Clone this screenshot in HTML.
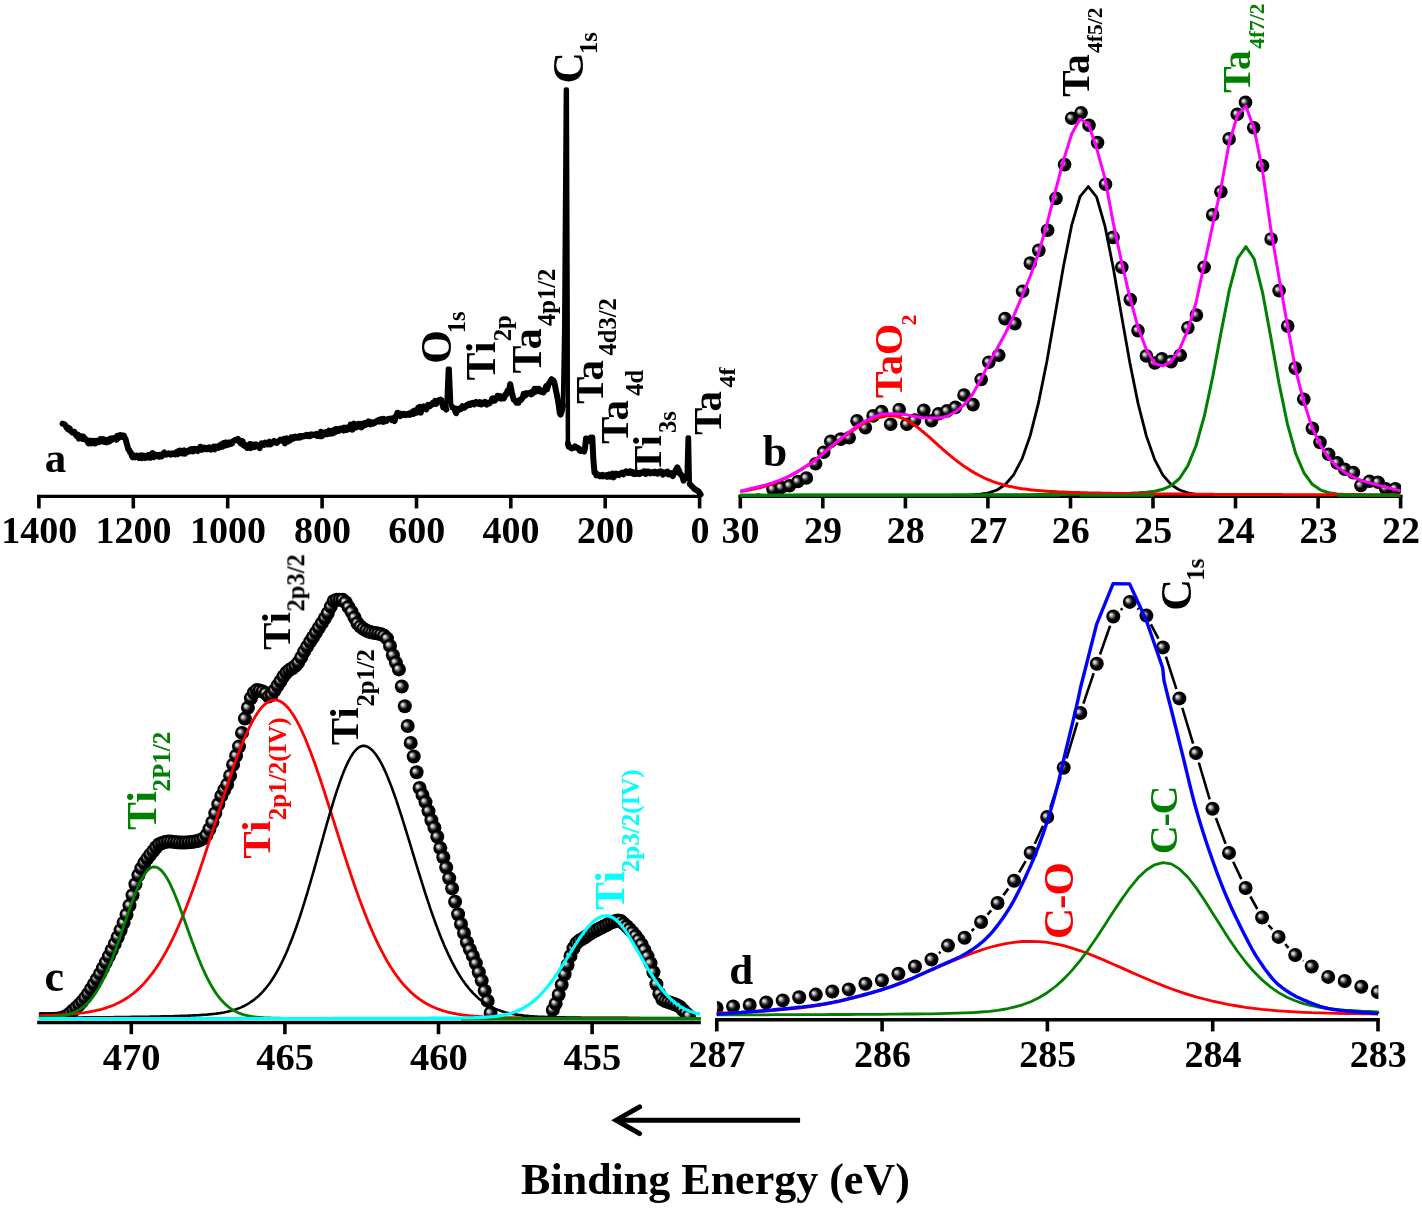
<!DOCTYPE html><html><head><meta charset="utf-8"><style>html,body{margin:0;padding:0;background:#fff;}svg{display:block;}</style></head><body>
<svg width="1422" height="1208" viewBox="0 0 1422 1208">
<defs><radialGradient id="sp" cx="0.5" cy="0.5" r="0.5" fx="0.31" fy="0.36"><stop offset="0" stop-color="#f0f0f0"/><stop offset="0.18" stop-color="#c4c4c4"/><stop offset="0.42" stop-color="#404040"/><stop offset="0.6" stop-color="#000"/></radialGradient></defs>
<rect width="1422" height="1208" fill="#fff"/>
<filter id="gs" filterUnits="userSpaceOnUse" x="0" y="0" width="1422" height="1208"><feOffset dx="0" dy="0"/></filter>
<g filter="url(#gs)">
<line x1="37.2" y1="496.4" x2="701.2" y2="496.4" stroke="#000" stroke-width="3.4"/>
<line x1="38.9" y1="494.9" x2="38.9" y2="508.4" stroke="#000" stroke-width="3.6"/>
<text x="39.2" y="543.2" font-family="&quot;Liberation Serif&quot;, serif" font-weight="bold" font-size="38" fill="#000" text-anchor="middle">1400</text>
<line x1="133.3" y1="494.9" x2="133.3" y2="508.4" stroke="#000" stroke-width="3.6"/>
<text x="133.6" y="543.2" font-family="&quot;Liberation Serif&quot;, serif" font-weight="bold" font-size="38" fill="#000" text-anchor="middle">1200</text>
<line x1="227.7" y1="494.9" x2="227.7" y2="508.4" stroke="#000" stroke-width="3.6"/>
<text x="228" y="543.2" font-family="&quot;Liberation Serif&quot;, serif" font-weight="bold" font-size="38" fill="#000" text-anchor="middle">1000</text>
<line x1="322.1" y1="494.9" x2="322.1" y2="508.4" stroke="#000" stroke-width="3.6"/>
<text x="322.4" y="543.2" font-family="&quot;Liberation Serif&quot;, serif" font-weight="bold" font-size="38" fill="#000" text-anchor="middle">800</text>
<line x1="416.5" y1="494.9" x2="416.5" y2="508.4" stroke="#000" stroke-width="3.6"/>
<text x="416.8" y="543.2" font-family="&quot;Liberation Serif&quot;, serif" font-weight="bold" font-size="38" fill="#000" text-anchor="middle">600</text>
<line x1="510.8" y1="494.9" x2="510.8" y2="508.4" stroke="#000" stroke-width="3.6"/>
<text x="511.1" y="543.2" font-family="&quot;Liberation Serif&quot;, serif" font-weight="bold" font-size="38" fill="#000" text-anchor="middle">400</text>
<line x1="605.2" y1="494.9" x2="605.2" y2="508.4" stroke="#000" stroke-width="3.6"/>
<text x="605.5" y="543.2" font-family="&quot;Liberation Serif&quot;, serif" font-weight="bold" font-size="38" fill="#000" text-anchor="middle">200</text>
<line x1="699.6" y1="494.9" x2="699.6" y2="508.4" stroke="#000" stroke-width="3.6"/>
<text x="699.9" y="543.2" font-family="&quot;Liberation Serif&quot;, serif" font-weight="bold" font-size="38" fill="#000" text-anchor="middle">0</text>
<polyline points="62.6,423.7 63.5,424.1 64.4,424.3 65.3,425 66.2,426.9 67.1,428.2 68,429.2 68.9,428 69.8,428.7 70.7,431.1 71.6,431.4 72.5,432.5 73.4,432 74.3,431.7 75.2,433.9 76.1,435.3 77,436.4 77.9,434.6 78.8,438.6 79.7,437.8 80.6,436.3 81.5,436.2 82.4,438.8 83.3,436.5 84.2,439.1 85.1,438.7 86,440.1 86.9,440.1 87.8,442.2 88.7,443.5 89.6,443 90.5,440.7 91.4,443.5 92.3,442 93.2,440.8 94.1,442.6 95,443.4 95.9,440.8 96.8,441 97.7,441.4 98.6,442.2 99.5,441.9 100.4,439 101.3,440.1 102.2,441.2 103.1,439 104,440.1 104.9,442 105.8,440.3 106.7,442.3 107.6,439.8 108.5,439.7 109.4,441.6 110.3,438.5 111.2,438.4 112.1,439.8 113,438.3 113.9,438.3 114.8,438.6 115.7,437.3 116.6,439.8 117.5,435.7 118.4,437.9 119.3,437.3 120.2,435.1 121.1,435.2 122,436.9 122.9,435.5 123.8,435.5 124.7,437.6 125.6,439.2 126.5,442.8 127.4,446 128.3,449.3 129.2,450 130.1,452.2 131,452.9 131.9,456 132.8,457.3 133.7,455.3 134.6,455.9 135.5,457.3 136.4,456.9 137.3,455.6 138.2,457.1 139.1,457.9 140,457.3 140.9,455.3 141.8,458.1 142.7,457.5 143.6,455.5 144.5,455.9 145.4,458 146.3,456.1 147.2,457.1 148.1,455 149,457.6 149.9,454.9 150.8,457.7 151.7,455.4 152.6,453 153.5,457.2 154.4,456.9 155.3,454.6 156.2,454.8 157.1,455.7 158,455.1 158.9,456.6 159.8,455 160.7,456.5 161.6,456.4 162.5,455 163.4,453.2 164.3,452.5 165.2,454.5 166.1,454.7 167,454.4 167.9,453.9 168.8,453.3 169.7,453.9 170.6,454.6 171.5,453.4 172.4,453.5 173.3,454 174.2,453.3 175.1,454.5 176,454.2 176.9,451.9 177.8,454.1 178.7,451.2 179.6,450.6 180.5,451.2 181.4,450.8 182.3,453.5 183.2,451.4 184.1,450.5 185,453.7 185.9,452.1 186.8,452.1 187.7,450.9 188.6,451.7 189.5,451.2 190.4,449.3 191.3,451.2 192.2,449.2 193.1,451.5 194,449.1 194.9,448.7 195.8,449.4 196.7,449.8 197.6,451 198.5,448.6 199.4,449.9 200.3,446.7 201.2,448 202.1,449.8 203,447.8 203.9,447.6 204.8,448.9 205.7,449.2 206.6,448.2 207.5,449 208.4,447.6 209.3,447.3 210.2,448.2 211.1,449.6 212,448.7 212.9,449 213.8,446.5 214.7,449.4 215.6,446.6 216.5,447.7 217.4,447.4 218.3,447.8 219.2,445.5 220.1,445 221,446.9 221.9,444 222.8,446.6 223.7,443 224.6,445.6 225.5,442.5 226.4,443.3 227.3,445 228.2,442.6 229.1,442.6 230,444.1 230.9,442.5 231.8,443.7 232.7,442.4 233.6,440.8 234.5,440.5 235.4,439.7 236.3,439.7 237.2,440.3 238.1,439 239,441.4 239.9,440.8 240.8,443.4 241.7,443 242.6,441.2 243.5,445.2 244.4,445.8 245.3,444.9 246.2,447 247.1,447.9 248,447.1 248.9,447.3 249.8,444 250.7,448.1 251.6,444.5 252.5,447 253.4,444.6 254.3,447.1 255.2,446.2 256.1,444.4 257,446.1 257.9,446.4 258.8,445.8 259.7,448.2 260.6,445.3 261.5,443.3 262.4,443.7 263.3,443.7 264.2,444.7 265.1,442.7 266,443.8 266.9,443 267.8,444.4 268.7,443.5 269.6,441.7 270.5,444.4 271.4,442.4 272.3,442.9 273.2,442.5 274.1,441 275,442.1 275.9,442.6 276.8,443 277.7,441.7 278.6,441 279.5,440.9 280.4,439.7 281.3,440.2 282.2,440.3 283.1,440.8 284,438.9 284.9,443.4 285.8,441.2 286.7,438.4 287.6,440.2 288.5,441.2 289.4,438.8 290.3,440.2 291.2,437.4 292.1,438.5 293,438.8 293.9,437 294.8,437.9 295.7,436.8 296.6,437.7 297.5,437.8 298.4,437.1 299.3,436.3 300.2,437.5 301.1,435.9 302,436 302.9,436.4 303.8,436.4 304.7,435.6 305.6,435.8 306.5,435 307.4,436 308.3,435.2 309.2,436 310.1,436.2 311,434.5 311.9,435.2 312.8,434.6 313.7,435 314.6,434.5 315.5,435.2 316.4,433.9 317.3,436 318.2,434 319.1,435.1 320,436.1 320.9,431.7 321.8,436.3 322.7,433.1 323.6,434.8 324.5,432.5 325.4,432.2 326.3,432.2 327.2,434.2 328.1,431.8 329,430.7 329.9,433.8 330.8,431.3 331.7,430.8 332.6,433.5 333.5,432.7 334.4,429.8 335.3,432.3 336.2,429.1 337.1,430.2 338,429.2 338.9,430.8 339.8,428.8 340.7,428.9 341.6,428.4 342.5,430 343.4,430.5 344.3,427.7 345.2,428.2 346.1,429.8 347,427.7 347.9,429.5 348.8,427.7 349.7,428.2 350.6,424.5 351.5,426 352.4,429.7 353.3,428.2 354.2,423.6 355.1,427.7 356,427.6 356.9,425.3 357.8,426.7 358.7,423.8 359.6,424.7 360.5,423.9 361.4,427.4 362.3,425 363.2,423.9 364.1,423.2 365,425.3 365.9,422.9 366.8,423.9 367.7,424.1 368.6,421.4 369.5,422.1 370.4,424.4 371.3,422.2 372.2,422.2 373.1,423.7 374,423.1 374.9,423 375.8,422.1 376.7,420.9 377.6,420.8 378.5,420 379.4,421.5 380.3,421 381.2,419.1 382.1,421.2 383,421.9 383.9,418.9 384.8,421.4 385.7,420.2 386.6,420.8 387.5,419.2 388.4,419 389.3,418.9 390.2,418.5 391.1,418.8 392,420.2 392.9,418.5 393.8,419 394.7,421.1 395.6,415.9 396.5,415.8 397.4,412.7 398.3,414.8 399.2,415 400.1,416.1 401,413.7 401.9,415.4 402.8,414.5 403.7,413.9 404.6,415.1 405.5,415.2 406.4,414.2 407.3,414.8 408.2,414.8 409.1,413.3 410,414.8 410.9,413.1 411.8,414 412.7,411.5 413.6,414 414.5,410.6 415.4,412.8 416.3,411 417.2,412.5 418.1,407.9 419,411.5 419.9,406.8 420.8,412.6 421.7,407.8 422.6,407.3 423.5,406.5 424.4,408.4 425.3,408.3 426.2,409.4 427.1,407 428,404.9 428.9,406.6 429.8,406.2 430.7,405.8 431.6,403.9 432.5,403.1 433.4,402.4 434.3,403.8 435.2,400.9 436.1,403.9 437,401.6 437.9,401.3 438.8,400.2 439.7,399.8 440.6,399.5 441.5,400 442.4,404.3 443.3,407.6 444.2,407.7 445.1,407.5 446.3,409.5" fill="none" stroke="#000" stroke-width="6.0" stroke-linejoin="round" stroke-linecap="round"/>
<polyline points="452.6,407.5 452.6,407.1 453.5,408.4 454.4,408.2 455.3,411.4 456.2,413.2 457.1,408.9 458,410.4 458.9,408.5 459.8,408.8 460.7,409.3 461.6,408.5 462.5,406.2 463.4,407.6 464.3,407.7 465.2,407.1 466.1,406 467,404.9 467.9,405.3 468.8,403.7 469.7,403.7 470.6,404.8 471.5,403.3 472.4,402.9 473.3,404 474.2,404.4 475.1,403.4 476,402 476.9,403.1 477.8,403.3 478.7,403.8 479.6,402.1 480.5,402.3 481.4,404.5 482.3,403.7 483.2,403.6 484.1,403.1 485,401.8 485.9,403.4 486.8,404.6 487.7,403 488.6,403.5 489.5,403.4 490.4,402.1 491.3,401.5 492.2,398.4 493.1,398.3 494,400.7 494.9,400.7 495.8,399.3 496.7,398.7 497.6,395.7 498.5,397.5 499.4,396.4 500.3,396.2 501.2,398.6 502.1,396.7 503,397.5 503.9,398.3 504.8,396.3 505.7,394 506.6,394.3 507.5,390.7 508.4,391 509.3,389.2 510.2,384.1 511.1,388.5 512,393.4 512.9,396.6 513.8,399.6 514.7,400.5 515.6,401.1 516.5,402.6 517.4,401.1 518.3,402.8 519.2,400.5 520.1,399.5 521,400 521.9,398.8 522.8,397.2 523.7,393.9 524.6,396 525.5,395.3 526.4,393.1 527.3,393.3 528.2,393.5 529.1,393.3 530,393.6 530.9,394.3 531.8,391.8 532.7,393.5 533.6,391.1 534.5,388.8 535.4,391.8 536.3,388.7 537.2,390.3 538.1,390 539,388.9 539.9,391.7 540.8,391.7 541.7,391.7 542.6,392.3 543.5,392.4 544.4,389.9 545.3,388.5 546.2,386.2 547.1,389.4 548,385.7 548.9,383.4 549.8,382.4 550.7,380.6 551.6,379.2 552.5,380 553.4,380.4 554.3,382.4 555.2,386.6 556.1,391.2 557,395.3 557.9,399.9 558.8,405.5 559.7,412.9 560.6,414.6 561.5,412 562.9,405.5" fill="none" stroke="#000" stroke-width="6.0" stroke-linejoin="round" stroke-linecap="round"/>
<polyline points="567.9,443.6 567.9,443.8 568.8,446.8 569.7,447 570.6,447.7 571.5,448.4 572.4,447.6 573.3,447.4 574.2,447.7 575.1,446.5 576,447.2 576.9,447.4 577.8,448.3 578.7,448.5 579.6,450.4 580.5,451 581.4,450 582.3,450.7 583.2,450.9 584.1,451.5 585,448 586,438.5 588.5,441 590.5,437.5 592.3,437.5 593.3,458.8 594.5,472.5 594.5,471.6 595.4,472.5 596.3,475.4 597.2,474.2 598.1,474.7 599,475.6 599.9,476.2 600.8,475.4 601.7,476.1 602.6,474.8 603.5,476.3 604.4,475.9 605.3,475.8 606.2,475.2 607.1,476.9 608,475 608.9,474.4 609.8,476.7 610.7,475.5 611.6,475.9 612.5,473.7 613.4,477.4 614.3,473.9 615.2,475.7 616.1,473.6 617,474.5 617.9,474.4 618.8,475 619.7,473.9 620.6,473.3 621.5,473.7 622.4,472.8 623.3,474.4 624.2,473.7 625.1,473 626,471.3 626.9,471.6 627.8,472.8 628.7,473 629.6,471.3 630.5,471.3 631.4,471.8 632.3,473.3 633.2,472.1 634.1,474 635,473.2 635.9,473.9 636.8,473.8 637.7,473.7 638.6,473.4 639.5,474 640.4,472.7 641.3,473.3 642.2,472.8 643.1,472.3 644,471.2 644.9,471.4 645.8,474 646.7,471.5 647.6,471.5 648.5,471.4 649.4,472.8 650.3,473.4 651.2,472.5 652.1,472 653,472.8 653.9,473.2 654.8,471.7 655.7,472.8 656.6,472.1 657.5,473.7 658.4,472.9 659.3,471.6 660.2,471.3 661.1,471.5 662,472.3 662.9,474.6 663.8,472.5 664.7,473.3 665.6,472.5 666.5,471.9 667.4,471.6 668.3,474.3 669.2,474.6 670.1,473.8 671,473.2 671.9,475.1 672.8,476.1 673.7,473.8 674.6,472.9 675.5,470.5 676.4,469.2 677.3,467.4 678.2,469.3 679.1,470.6 680,473.8 680.9,474.8 681.8,475.1 682.7,477.2 683.6,480.7 684.5,478.2 685.4,478.3 686.6,478" fill="none" stroke="#000" stroke-width="6.0" stroke-linejoin="round" stroke-linecap="round"/>
<polyline points="689.8,484 694,488.6 698.4,491.3 700.6,494.5" fill="none" stroke="#000" stroke-width="6.0" stroke-linejoin="round" stroke-linecap="round"/>
<polyline points="446.3,409.5 447.9,368.8 449.6,368.8 451.2,406 452.6,407.5" fill="none" stroke="#000" stroke-width="4.5" stroke-linejoin="round" stroke-linecap="round"/>
<polyline points="562.9,405.5 564.2,330 565.9,89.5 566.8,89.5 567.6,300 567.9,443.6" fill="none" stroke="#000" stroke-width="4.5" stroke-linejoin="round" stroke-linecap="round"/>
<polyline points="686.6,478 687.7,437.5 688.9,437.5 689.8,484" fill="none" stroke="#000" stroke-width="4.5" stroke-linejoin="round" stroke-linecap="round"/>
<text x="44.7" y="472.2" font-family="&quot;Liberation Serif&quot;, serif" font-weight="bold" font-size="43" fill="#000" text-anchor="start">a</text>
<text transform="translate(450.7,363.8) rotate(-90)" font-family="&quot;Liberation Serif&quot;, serif" font-weight="bold" font-size="43.3" fill="#000">O</text>
<text transform="translate(464.9,333.3) rotate(-90)" font-family="&quot;Liberation Serif&quot;, serif" font-weight="bold" font-size="24.5" fill="#000">1s</text>
<text transform="translate(495.4,380.4) rotate(-90)" font-family="&quot;Liberation Serif&quot;, serif" font-weight="bold" font-size="42" fill="#000">Ti</text>
<text transform="translate(510.6,341.3) rotate(-90)" font-family="&quot;Liberation Serif&quot;, serif" font-weight="bold" font-size="24.5" fill="#000">2p</text>
<text transform="translate(540.8,373.5) rotate(-90)" font-family="&quot;Liberation Serif&quot;, serif" font-weight="bold" font-size="42" fill="#000">Ta</text>
<text transform="translate(555.3,325.9) rotate(-90)" font-family="&quot;Liberation Serif&quot;, serif" font-weight="bold" font-size="24.5" fill="#000">4p1/2</text>
<text transform="translate(583,83.4) rotate(-90)" font-family="&quot;Liberation Serif&quot;, serif" font-weight="bold" font-size="43.5" fill="#000">C</text>
<text transform="translate(596.8,53.9) rotate(-90)" font-family="&quot;Liberation Serif&quot;, serif" font-weight="bold" font-size="24.5" fill="#000">1s</text>
<text transform="translate(602.5,404) rotate(-90)" font-family="&quot;Liberation Serif&quot;, serif" font-weight="bold" font-size="41" fill="#000">Ta</text>
<text transform="translate(616,355.4) rotate(-90)" font-family="&quot;Liberation Serif&quot;, serif" font-weight="bold" font-size="24.5" fill="#000">4d3/2</text>
<text transform="translate(628.2,444.1) rotate(-90)" font-family="&quot;Liberation Serif&quot;, serif" font-weight="bold" font-size="41" fill="#000">Ta</text>
<text transform="translate(642.9,395.7) rotate(-90)" font-family="&quot;Liberation Serif&quot;, serif" font-weight="bold" font-size="24.5" fill="#000">4d</text>
<text transform="translate(661.2,473.1) rotate(-90)" font-family="&quot;Liberation Serif&quot;, serif" font-weight="bold" font-size="41" fill="#000">Ti</text>
<text transform="translate(676.4,432.9) rotate(-90)" font-family="&quot;Liberation Serif&quot;, serif" font-weight="bold" font-size="24.5" fill="#000">3s</text>
<text transform="translate(720.8,435.1) rotate(-90)" font-family="&quot;Liberation Serif&quot;, serif" font-weight="bold" font-size="41" fill="#000">Ta</text>
<text transform="translate(735.2,387.6) rotate(-90)" font-family="&quot;Liberation Serif&quot;, serif" font-weight="bold" font-size="24" fill="#000">4f</text>
<line x1="738.6" y1="496.4" x2="1402.4" y2="496.4" stroke="#000" stroke-width="3.4"/>
<line x1="740.3" y1="494.9" x2="740.3" y2="508.4" stroke="#000" stroke-width="3.6"/>
<text x="740.6" y="543.2" font-family="&quot;Liberation Serif&quot;, serif" font-weight="bold" font-size="38" fill="#000" text-anchor="middle">30</text>
<line x1="822.8" y1="494.9" x2="822.8" y2="508.4" stroke="#000" stroke-width="3.6"/>
<text x="823.1" y="543.2" font-family="&quot;Liberation Serif&quot;, serif" font-weight="bold" font-size="38" fill="#000" text-anchor="middle">29</text>
<line x1="905.4" y1="494.9" x2="905.4" y2="508.4" stroke="#000" stroke-width="3.6"/>
<text x="905.7" y="543.2" font-family="&quot;Liberation Serif&quot;, serif" font-weight="bold" font-size="38" fill="#000" text-anchor="middle">28</text>
<line x1="987.9" y1="494.9" x2="987.9" y2="508.4" stroke="#000" stroke-width="3.6"/>
<text x="988.2" y="543.2" font-family="&quot;Liberation Serif&quot;, serif" font-weight="bold" font-size="38" fill="#000" text-anchor="middle">27</text>
<line x1="1070.5" y1="494.9" x2="1070.5" y2="508.4" stroke="#000" stroke-width="3.6"/>
<text x="1070.8" y="543.2" font-family="&quot;Liberation Serif&quot;, serif" font-weight="bold" font-size="38" fill="#000" text-anchor="middle">26</text>
<line x1="1153" y1="494.9" x2="1153" y2="508.4" stroke="#000" stroke-width="3.6"/>
<text x="1153.3" y="543.2" font-family="&quot;Liberation Serif&quot;, serif" font-weight="bold" font-size="38" fill="#000" text-anchor="middle">25</text>
<line x1="1235.5" y1="494.9" x2="1235.5" y2="508.4" stroke="#000" stroke-width="3.6"/>
<text x="1235.8" y="543.2" font-family="&quot;Liberation Serif&quot;, serif" font-weight="bold" font-size="38" fill="#000" text-anchor="middle">24</text>
<line x1="1318.1" y1="494.9" x2="1318.1" y2="508.4" stroke="#000" stroke-width="3.6"/>
<text x="1318.4" y="543.2" font-family="&quot;Liberation Serif&quot;, serif" font-weight="bold" font-size="38" fill="#000" text-anchor="middle">23</text>
<line x1="1400.6" y1="494.9" x2="1400.6" y2="508.4" stroke="#000" stroke-width="3.6"/>
<text x="1400.9" y="543.2" font-family="&quot;Liberation Serif&quot;, serif" font-weight="bold" font-size="38" fill="#000" text-anchor="middle">22</text>
<clipPath id="cb"><rect x="740" y="0" width="661" height="495.5"/></clipPath>
<g clip-path="url(#cb)">
<circle cx="758.2" cy="500" r="6.8" fill="url(#sp)"/>
<circle cx="773" cy="489.2" r="6.8" fill="url(#sp)"/>
<circle cx="781.1" cy="487.5" r="6.8" fill="url(#sp)"/>
<circle cx="789.5" cy="485.7" r="6.8" fill="url(#sp)"/>
<circle cx="797.9" cy="481.5" r="6.8" fill="url(#sp)"/>
<circle cx="806.4" cy="478" r="6.8" fill="url(#sp)"/>
<circle cx="815.6" cy="463.8" r="6.8" fill="url(#sp)"/>
<circle cx="823.7" cy="452.2" r="6.8" fill="url(#sp)"/>
<circle cx="830.8" cy="441.3" r="6.8" fill="url(#sp)"/>
<circle cx="840.8" cy="439.1" r="6.8" fill="url(#sp)"/>
<circle cx="849.2" cy="437.7" r="6.8" fill="url(#sp)"/>
<circle cx="857" cy="420.8" r="6.8" fill="url(#sp)"/>
<circle cx="865.4" cy="427.8" r="6.8" fill="url(#sp)"/>
<circle cx="873.1" cy="415.9" r="6.8" fill="url(#sp)"/>
<circle cx="881.6" cy="411.6" r="6.8" fill="url(#sp)"/>
<circle cx="890.7" cy="424.3" r="6.8" fill="url(#sp)"/>
<circle cx="899.2" cy="409.5" r="6.8" fill="url(#sp)"/>
<circle cx="906.9" cy="424.3" r="6.8" fill="url(#sp)"/>
<circle cx="914.6" cy="420.1" r="6.8" fill="url(#sp)"/>
<circle cx="923.8" cy="410.2" r="6.8" fill="url(#sp)"/>
<circle cx="931.5" cy="420.8" r="6.8" fill="url(#sp)"/>
<circle cx="938.5" cy="413.8" r="6.8" fill="url(#sp)"/>
<circle cx="947" cy="410.9" r="6.8" fill="url(#sp)"/>
<circle cx="955.4" cy="407.4" r="6.8" fill="url(#sp)"/>
<circle cx="964" cy="395" r="6.8" fill="url(#sp)"/>
<circle cx="973" cy="404.6" r="6.8" fill="url(#sp)"/>
<circle cx="981.2" cy="379.5" r="6.8" fill="url(#sp)"/>
<circle cx="988.8" cy="362.2" r="6.8" fill="url(#sp)"/>
<circle cx="998.7" cy="355.2" r="6.8" fill="url(#sp)"/>
<circle cx="1005" cy="318.6" r="6.8" fill="url(#sp)"/>
<circle cx="1014.9" cy="323.6" r="6.8" fill="url(#sp)"/>
<circle cx="1022.6" cy="291.2" r="6.8" fill="url(#sp)"/>
<circle cx="1030.3" cy="263.1" r="6.8" fill="url(#sp)"/>
<circle cx="1038.8" cy="250.4" r="6.8" fill="url(#sp)"/>
<circle cx="1047.6" cy="230.2" r="6.8" fill="url(#sp)"/>
<circle cx="1056" cy="198.4" r="6.8" fill="url(#sp)"/>
<circle cx="1064.6" cy="164.6" r="6.8" fill="url(#sp)"/>
<circle cx="1071.7" cy="118.2" r="6.8" fill="url(#sp)"/>
<circle cx="1081.1" cy="112.7" r="6.8" fill="url(#sp)"/>
<circle cx="1089" cy="125.3" r="6.8" fill="url(#sp)"/>
<circle cx="1097.6" cy="142.6" r="6.8" fill="url(#sp)"/>
<circle cx="1105.5" cy="184.3" r="6.8" fill="url(#sp)"/>
<circle cx="1113" cy="237.4" r="6.8" fill="url(#sp)"/>
<circle cx="1121.8" cy="267.3" r="6.8" fill="url(#sp)"/>
<circle cx="1130.3" cy="299.6" r="6.8" fill="url(#sp)"/>
<circle cx="1138" cy="330.6" r="6.8" fill="url(#sp)"/>
<circle cx="1146.4" cy="355.9" r="6.8" fill="url(#sp)"/>
<circle cx="1154.9" cy="363" r="6.8" fill="url(#sp)"/>
<circle cx="1161.9" cy="358.7" r="6.8" fill="url(#sp)"/>
<circle cx="1171.1" cy="361.6" r="6.8" fill="url(#sp)"/>
<circle cx="1180.2" cy="355.2" r="6.8" fill="url(#sp)"/>
<circle cx="1187.9" cy="327.8" r="6.8" fill="url(#sp)"/>
<circle cx="1196.4" cy="315.1" r="6.8" fill="url(#sp)"/>
<circle cx="1204.1" cy="267.3" r="6.8" fill="url(#sp)"/>
<circle cx="1212.7" cy="214.9" r="6.8" fill="url(#sp)"/>
<circle cx="1220.9" cy="191.8" r="6.8" fill="url(#sp)"/>
<circle cx="1229.1" cy="138.9" r="6.8" fill="url(#sp)"/>
<circle cx="1237.3" cy="114.3" r="6.8" fill="url(#sp)"/>
<circle cx="1245.5" cy="102.4" r="6.8" fill="url(#sp)"/>
<circle cx="1253.7" cy="127.7" r="6.8" fill="url(#sp)"/>
<circle cx="1262.6" cy="165.7" r="6.8" fill="url(#sp)"/>
<circle cx="1271.1" cy="239" r="6.8" fill="url(#sp)"/>
<circle cx="1279.1" cy="290.6" r="6.8" fill="url(#sp)"/>
<circle cx="1287.7" cy="326.1" r="6.8" fill="url(#sp)"/>
<circle cx="1295.2" cy="368.1" r="6.8" fill="url(#sp)"/>
<circle cx="1303.8" cy="399.3" r="6.8" fill="url(#sp)"/>
<circle cx="1312.4" cy="428.4" r="6.8" fill="url(#sp)"/>
<circle cx="1320" cy="442.4" r="6.8" fill="url(#sp)"/>
<circle cx="1328.6" cy="454.3" r="6.8" fill="url(#sp)"/>
<circle cx="1337.2" cy="462.9" r="6.8" fill="url(#sp)"/>
<circle cx="1344.7" cy="469.3" r="6.8" fill="url(#sp)"/>
<circle cx="1353.4" cy="472.6" r="6.8" fill="url(#sp)"/>
<circle cx="1360.9" cy="485.5" r="6.8" fill="url(#sp)"/>
<circle cx="1369.5" cy="481.2" r="6.8" fill="url(#sp)"/>
<circle cx="1378.1" cy="482.2" r="6.8" fill="url(#sp)"/>
<circle cx="1385.7" cy="488.7" r="6.8" fill="url(#sp)"/>
<circle cx="1395.3" cy="488.7" r="6.8" fill="url(#sp)"/>
</g>
<polyline points="739.8,495.3 748.1,495.3 756.4,495.3 764.7,495.3 773,495.3 781.3,495.3 789.6,495.3 797.9,495.3 806.2,495.3 814.5,495.3 822.8,495.3 831.1,495.3 839.4,495.3 847.7,495.3 856,495.3 864.3,495.3 872.6,495.3 880.8,495.3 889.1,495.3 897.4,495.3 905.7,495.3 914,495.3 922.3,495.3 930.6,495.3 938.9,495.3 947.2,495.3 955.5,495.2 963.8,495.1 972.1,494.9 980.4,494.2 988.7,492.8 997,490 1005.3,484.5 1013.6,474.9 1021.9,459.2 1030.2,435.6 1038.5,402.9 1046.8,361.7 1055.1,314.6 1063.4,266.8 1071.7,225.1 1080,196.6 1088.3,186.6 1096.6,197 1104.9,225.8 1113.2,267.6 1121.5,315.4 1129.8,362.5 1138.1,403.6 1146.4,436.1 1154.7,459.6 1162.9,475.1 1171.2,484.7 1179.5,490 1187.8,492.9 1196.1,494.3 1204.4,494.9 1212.7,495.1 1221,495.2 1229.3,495.3 1237.6,495.3 1245.9,495.3 1254.2,495.3 1262.5,495.3 1270.8,495.3 1279.1,495.3 1287.4,495.3 1295.7,495.3 1304,495.3 1312.3,495.3 1320.6,495.3 1328.9,495.3 1337.2,495.3 1345.5,495.3 1353.8,495.3 1362.1,495.3 1370.4,495.3 1378.7,495.3 1387,495.3 1395.3,495.3" fill="none" stroke="#000" stroke-width="2.8" stroke-linejoin="round"/>
<polyline points="739.8,495.2 748.1,495.2 756.4,495.2 764.7,495.2 773,495.2 781.3,495.2 789.6,495.2 797.9,495.1 806.2,495.1 814.5,495.1 822.8,495.1 831.1,495.1 839.4,495.1 847.7,495.1 856,495.1 864.3,495.1 872.6,495.1 880.8,495.1 889.1,495.1 897.4,495.1 905.7,495 914,495 922.3,495 930.6,495 938.9,495 947.2,495 955.5,494.9 963.8,494.9 972.1,494.9 980.4,494.9 988.7,494.8 997,494.8 1005.3,494.8 1013.6,494.7 1021.9,494.7 1030.2,494.7 1038.5,494.6 1046.8,494.5 1055.1,494.5 1063.4,494.4 1071.7,494.3 1080,494.2 1088.3,494.1 1096.6,494 1104.9,493.8 1113.2,493.7 1121.5,493.4 1129.8,493.2 1138.1,492.8 1146.4,492.2 1154.7,491.2 1162.9,489.3 1171.2,485.6 1179.5,478.5 1187.8,465.9 1196.1,445.5 1204.4,415.7 1212.7,376.9 1221,332.7 1229.3,290.1 1237.6,258.5 1245.9,246.7 1254.2,259 1262.5,292.3 1270.8,337.3 1279.1,383.8 1287.4,423.9 1295.7,453.6 1304,473 1312.3,484.3 1320.6,490.1 1328.9,492.8 1337.2,494 1345.5,494.5 1353.8,494.7 1362.1,494.8 1370.4,494.9 1378.7,494.9 1387,495 1395.3,495" fill="none" stroke="#008000" stroke-width="3" stroke-linejoin="round"/>
<polyline points="740.3,491.5 741.8,491.3 743.3,491 744.8,490.8 746.3,490.5 747.8,490.3 749.3,490 750.8,489.7 752.3,489.4 753.8,489.1 755.3,488.8 756.8,488.4 758.3,488 759.8,487.7 761.3,487.3 762.8,486.8 764.3,486.4 765.8,486 767.3,485.5 768.8,485 770.3,484.5 771.8,484 773.3,483.4 774.8,482.9 776.3,482.3 777.8,481.7 779.3,481 780.8,480.4 782.3,479.7 783.8,479 785.3,478.3 786.8,477.5 788.3,476.8 789.8,476 791.3,475.2 792.8,474.4 794.3,473.5 795.8,472.6 797.3,471.7 798.8,470.8 800.3,469.9 801.8,468.9 803.3,468 804.8,467 806.3,466 807.8,464.9 809.3,463.9 810.8,462.8 812.3,461.7 813.8,460.6 815.3,459.5 816.8,458.4 818.3,457.2 819.8,456.1 821.3,454.9 822.8,453.7 824.3,452.6 825.8,451.4 827.3,450.2 828.8,449 830.3,447.8 831.8,446.6 833.3,445.4 834.8,444.2 836.3,442.9 837.8,441.8 839.3,440.6 840.8,439.4 842.3,438.2 843.8,437 845.3,435.9 846.8,434.8 848.3,433.6 849.8,432.6 851.3,431.5 852.8,430.4 854.3,429.4 855.8,428.4 857.3,427.4 858.8,426.4 860.3,425.5 861.8,424.6 863.3,423.8 864.8,423 866.3,422.2 867.8,421.4 869.3,420.7 870.8,420.1 872.3,419.4 873.8,418.9 875.3,418.3 876.8,417.9 878.3,417.4 879.8,417 881.3,416.7 882.8,416.4 884.3,416.2 885.8,416 887.3,415.8 888.8,415.7 890.3,415.7 891.8,415.7 893.3,415.8 894.8,416 896.3,416.3 897.8,416.6 899.3,417.1 900.8,417.6 902.3,418.1 903.8,418.8 905.3,419.5 906.8,420.2 908.3,421.1 909.8,422 911.3,422.9 912.8,423.9 914.3,425 915.8,426 917.3,427.2 918.8,428.3 920.3,429.5 921.8,430.8 923.3,432 924.8,433.3 926.3,434.6 927.8,435.9 929.3,437.2 930.8,438.5 932.3,439.9 933.8,441.2 935.3,442.6 936.8,443.9 938.3,445.3 939.8,446.6 941.3,447.9 942.8,449.3 944.3,450.6 945.8,451.9 947.3,453.2 948.8,454.4 950.3,455.7 951.8,456.9 953.3,458.2 954.8,459.4 956.3,460.5 957.8,461.7 959.3,462.8 960.8,463.9 962.3,465 963.8,466.1 965.3,467.1 966.8,468.1 968.3,469.1 969.8,470.1 971.3,471 972.8,471.9 974.3,472.8 975.8,473.6 977.3,474.4 978.8,475.2 980.3,476 981.8,476.7 983.3,477.5 984.8,478.2 986.3,478.8 987.8,479.5 989.3,480.1 990.8,480.7 992.3,481.3 993.8,481.8 995.3,482.3 996.8,482.8 998.3,483.3 999.8,483.8 1001.3,484.2 1002.8,484.7 1004.3,485.1 1005.8,485.5 1007.3,485.8 1008.8,486.2 1010.3,486.5 1011.8,486.8 1013.3,487.1 1014.8,487.4 1016.3,487.7 1017.8,488 1019.3,488.2 1020.8,488.5 1022.3,488.7 1023.8,488.9 1025.3,489.1 1026.8,489.3 1028.3,489.5 1029.8,489.7 1031.3,489.9 1032.8,490 1034.3,490.2 1035.8,490.3 1037.3,490.5 1038.8,490.6 1040.3,490.7 1041.8,490.8 1043.3,491 1044.8,491.1 1046.3,491.2 1047.8,491.3 1049.3,491.4 1050.8,491.5 1052.3,491.5 1053.8,491.6 1055.3,491.7 1056.8,491.8 1058.3,491.9 1059.8,491.9 1061.3,492 1062.8,492.1 1064.3,492.1 1065.8,492.2 1067.3,492.2 1068.8,492.3 1070.3,492.4 1071.8,492.4 1073.3,492.5 1074.8,492.5 1076.3,492.5 1077.8,492.6 1079.3,492.6 1080.8,492.7 1082.3,492.7 1083.8,492.8 1085.3,492.8 1086.8,492.8 1088.3,492.9 1089.8,492.9 1091.3,492.9 1092.8,493 1094.3,493 1095.8,493 1097.3,493.1 1098.8,493.1 1100.3,493.1 1101.8,493.2 1103.3,493.2 1104.8,493.2 1106.3,493.2 1107.8,493.3 1109.3,493.3 1110.8,493.3 1112.3,493.4 1113.8,493.4 1115.3,493.4 1116.8,493.4 1118.3,493.4 1119.8,493.5 1121.3,493.5 1122.8,493.5 1124.3,493.5 1125.8,493.6 1127.3,493.6 1128.8,493.6 1130.3,493.6 1131.8,493.6 1133.3,493.7 1134.8,493.7 1136.3,493.7 1137.8,493.7 1139.3,493.7 1140.8,493.8 1142.3,493.8 1143.8,493.8 1145.3,493.8 1146.8,493.8 1148.3,493.8 1149.8,493.9 1151.3,493.9 1152.8,493.9 1154.3,493.9 1155.8,493.9 1157.3,493.9 1158.8,493.9 1160.3,494 1161.8,494 1163.3,494 1164.8,494 1166.3,494 1167.8,494 1169.3,494 1170.8,494.1 1172.3,494.1 1173.8,494.1 1175.3,494.1 1176.8,494.1 1178.3,494.1 1179.8,494.1 1181.3,494.1 1182.8,494.1 1184.3,494.2 1185.8,494.2 1187.3,494.2 1188.8,494.2 1190.3,494.2 1191.8,494.2 1193.3,494.2 1194.8,494.2 1196.3,494.2 1197.8,494.3 1199.3,494.3 1200.8,494.3 1202.3,494.3 1203.8,494.3 1205.3,494.3 1206.8,494.3 1208.3,494.3 1209.8,494.3 1211.3,494.3 1212.8,494.3 1214.3,494.4 1215.8,494.4 1217.3,494.4 1218.8,494.4 1220.3,494.4 1221.8,494.4 1223.3,494.4 1224.8,494.4 1226.3,494.4 1227.8,494.4 1229.3,494.4 1230.8,494.4 1232.3,494.4 1233.8,494.5 1235.3,494.5 1236.8,494.5 1238.3,494.5 1239.8,494.5 1241.3,494.5 1242.8,494.5 1244.3,494.5 1245.8,494.5 1247.3,494.5 1248.8,494.5 1250.3,494.5 1251.8,494.5 1253.3,494.5 1254.8,494.5 1256.3,494.6 1257.8,494.6 1259.3,494.6 1260.8,494.6 1262.3,494.6 1263.8,494.6 1265.3,494.6 1266.8,494.6 1268.3,494.6 1269.8,494.6 1271.3,494.6 1272.8,494.6 1274.3,494.6 1275.8,494.6 1277.3,494.6 1278.8,494.6 1280.3,494.6 1281.8,494.6 1283.3,494.7 1284.8,494.7 1286.3,494.7 1287.8,494.7 1289.3,494.7 1290.8,494.7 1292.3,494.7 1293.8,494.7 1295.3,494.7 1296.8,494.7 1298.3,494.7 1299.8,494.7 1301.3,494.7 1302.8,494.7 1304.3,494.7 1305.8,494.7 1307.3,494.7 1308.8,494.7 1310.3,494.7 1311.8,494.7 1313.3,494.7 1314.8,494.7 1316.3,494.7 1317.8,494.7 1319.3,494.8 1320.8,494.8 1322.3,494.8 1323.8,494.8 1325.3,494.8 1326.8,494.8 1328.3,494.8 1329.8,494.8 1331.3,494.8 1332.8,494.8 1334.3,494.8 1335.8,494.8 1337.3,494.8 1338.8,494.8 1340.3,494.8 1341.8,494.8 1343.3,494.8 1344.8,494.8 1346.3,494.8 1347.8,494.8 1349.3,494.8 1350.8,494.8 1352.3,494.8 1353.8,494.8 1355.3,494.8 1356.8,494.8 1358.3,494.8 1359.8,494.8 1361.3,494.8 1362.8,494.8 1364.3,494.9 1365.8,494.9 1367.3,494.9 1368.8,494.9 1370.3,494.9 1371.8,494.9 1373.3,494.9 1374.8,494.9 1376.3,494.9 1377.8,494.9 1379.3,494.9 1380.8,494.9 1382.3,494.9 1383.8,494.9 1385.3,494.9 1386.8,494.9 1388.3,494.9 1389.8,494.9 1391.3,494.9 1392.8,494.9 1394.3,494.9 1395.8,494.9 1397.3,494.9 1398.8,494.9 1400.3,494.9" fill="none" stroke="#ff0000" stroke-width="3" stroke-linejoin="round"/>
<line x1="740.3" y1="495.3" x2="1060" y2="495.3" stroke="#008000" stroke-width="3"/>
<line x1="1080" y1="495.3" x2="1154" y2="495.3" stroke="#008000" stroke-width="3"/>
<line x1="1337" y1="495.3" x2="1400.6" y2="495.3" stroke="#008000" stroke-width="3"/>
<polyline points="740.3,491.3 748.1,489.3 756.4,487.2 764.7,485.1 773,482.6 781.3,479.6 789.6,475.9 797.9,471.6 806.2,466.4 814.5,461.1 822.8,453.9 831.1,446.4 839.4,439.9 847.7,433.1 856,426.6 864.3,421.6 872.6,417.7 880.8,414.3 889.1,413.8 897.4,413.8 905.7,414.6 914,416.2 922.3,417.7 930.6,418 938.9,418 947.2,416.3 955.5,411.8 963.8,405.1 972.1,395.1 980.4,380.2 988.7,363.9 997,348.8 1005.3,333.5 1013.6,316.1 1021.9,296.7 1030.2,276.3 1038.5,253.4 1046.8,224.6 1055.1,192.1 1063.4,160.6 1071.7,134 1080,119 1088.3,123.7 1096.6,148.1 1104.9,178.1 1113.2,222.6 1121.5,261.6 1129.8,297.2 1138.1,327.5 1146.4,349.5 1154.7,363.7 1162.9,365.9 1171.2,361.7 1179.5,349.4 1187.8,330.2 1196.1,302.2 1204.4,263.6 1212.7,225.1 1221,187.8 1229.3,142.3 1237.6,115 1245.9,106.1 1254.2,129.2 1262.5,170.4 1270.8,229.1 1279.1,277.9 1287.4,325 1295.7,370.3 1304,402.2 1312.3,428.1 1320.6,445.6 1328.9,458.1 1337.2,467 1345.5,472.9 1353.8,477.3 1362.1,480.6 1370.4,483.1 1378.7,485.4 1387,487.5 1395.3,489.6 1400.7,490.9" fill="none" stroke="#ff00ff" stroke-width="3" stroke-linejoin="round"/>
<text x="762.8" y="465.5" font-family="&quot;Liberation Serif&quot;, serif" font-weight="bold" font-size="44" fill="#000" text-anchor="start">b</text>
<text transform="translate(902.3,398) rotate(-90)" font-family="&quot;Liberation Serif&quot;, serif" font-weight="bold" font-size="40" fill="#ff0000">TaO</text>
<text transform="translate(915.5,325.5) rotate(-90)" font-family="&quot;Liberation Serif&quot;, serif" font-weight="bold" font-size="22" fill="#ff0000">2</text>
<text transform="translate(1088.9,96.8) rotate(-90)" font-family="&quot;Liberation Serif&quot;, serif" font-weight="bold" font-size="39.5" fill="#000">Ta</text>
<text transform="translate(1102.2,52.9) rotate(-90)" font-family="&quot;Liberation Serif&quot;, serif" font-weight="bold" font-size="21.5" fill="#000">4f5/2</text>
<text transform="translate(1249.7,92.8) rotate(-90)" font-family="&quot;Liberation Serif&quot;, serif" font-weight="bold" font-size="39.5" fill="#008000">Ta</text>
<text transform="translate(1263.5,48.8) rotate(-90)" font-family="&quot;Liberation Serif&quot;, serif" font-weight="bold" font-size="21.5" fill="#008000">4f7/2</text>
<line x1="37.2" y1="1022.5" x2="700.8" y2="1022.5" stroke="#000" stroke-width="3.4"/>
<line x1="131.3" y1="1021.0" x2="131.3" y2="1034.2" stroke="#000" stroke-width="3.6"/>
<text x="131.6" y="1070.3" font-family="&quot;Liberation Serif&quot;, serif" font-weight="bold" font-size="38.5" fill="#000" text-anchor="middle">470</text>
<line x1="284.9" y1="1021.0" x2="284.9" y2="1034.2" stroke="#000" stroke-width="3.6"/>
<text x="285.2" y="1070.3" font-family="&quot;Liberation Serif&quot;, serif" font-weight="bold" font-size="38.5" fill="#000" text-anchor="middle">465</text>
<line x1="438.5" y1="1021.0" x2="438.5" y2="1034.2" stroke="#000" stroke-width="3.6"/>
<text x="438.8" y="1070.3" font-family="&quot;Liberation Serif&quot;, serif" font-weight="bold" font-size="38.5" fill="#000" text-anchor="middle">460</text>
<line x1="592.1" y1="1021.0" x2="592.1" y2="1034.2" stroke="#000" stroke-width="3.6"/>
<text x="592.4" y="1070.3" font-family="&quot;Liberation Serif&quot;, serif" font-weight="bold" font-size="38.5" fill="#000" text-anchor="middle">455</text>
<line x1="461" y1="1018.6" x2="700.8" y2="1018.6" stroke="#008000" stroke-width="3.2"/>
<clipPath id="cc"><rect x="38.9" y="500" width="662" height="517.6"/></clipPath>
<g clip-path="url(#cc)">
<circle cx="40.7" cy="1019" r="7" fill="url(#sp)"/>
<circle cx="43.7" cy="1019" r="7" fill="url(#sp)"/>
<circle cx="46.6" cy="1018.9" r="7" fill="url(#sp)"/>
<circle cx="49.6" cy="1018.9" r="7" fill="url(#sp)"/>
<circle cx="52.5" cy="1018.9" r="7" fill="url(#sp)"/>
<circle cx="55.5" cy="1018.8" r="7" fill="url(#sp)"/>
<circle cx="58.5" cy="1018.6" r="7" fill="url(#sp)"/>
<circle cx="61.4" cy="1017.9" r="7" fill="url(#sp)"/>
<circle cx="64.4" cy="1017" r="7" fill="url(#sp)"/>
<circle cx="67.3" cy="1015.3" r="7" fill="url(#sp)"/>
<circle cx="70.3" cy="1013" r="7" fill="url(#sp)"/>
<circle cx="73.3" cy="1010.2" r="7" fill="url(#sp)"/>
<circle cx="76.2" cy="1007.6" r="7" fill="url(#sp)"/>
<circle cx="79.2" cy="1004.8" r="7" fill="url(#sp)"/>
<circle cx="82.1" cy="1001.6" r="7" fill="url(#sp)"/>
<circle cx="85.1" cy="997.9" r="7" fill="url(#sp)"/>
<circle cx="88.1" cy="993.7" r="7" fill="url(#sp)"/>
<circle cx="91" cy="989" r="7" fill="url(#sp)"/>
<circle cx="94" cy="984.2" r="7" fill="url(#sp)"/>
<circle cx="96.9" cy="979.2" r="7" fill="url(#sp)"/>
<circle cx="99.9" cy="973.9" r="7" fill="url(#sp)"/>
<circle cx="102.9" cy="968.3" r="7" fill="url(#sp)"/>
<circle cx="105.8" cy="962.5" r="7" fill="url(#sp)"/>
<circle cx="108.8" cy="956.4" r="7" fill="url(#sp)"/>
<circle cx="111.7" cy="950.2" r="7" fill="url(#sp)"/>
<circle cx="114.7" cy="943.9" r="7" fill="url(#sp)"/>
<circle cx="117.7" cy="937.2" r="7" fill="url(#sp)"/>
<circle cx="120.6" cy="930.2" r="7" fill="url(#sp)"/>
<circle cx="123.6" cy="922.8" r="7" fill="url(#sp)"/>
<circle cx="126.5" cy="914.7" r="7" fill="url(#sp)"/>
<circle cx="129.5" cy="905.5" r="7" fill="url(#sp)"/>
<circle cx="132.5" cy="895.3" r="7" fill="url(#sp)"/>
<circle cx="135.4" cy="884.3" r="7" fill="url(#sp)"/>
<circle cx="138.4" cy="875.3" r="7" fill="url(#sp)"/>
<circle cx="141.3" cy="868.4" r="7" fill="url(#sp)"/>
<circle cx="144.3" cy="863" r="7" fill="url(#sp)"/>
<circle cx="147.3" cy="858.6" r="7" fill="url(#sp)"/>
<circle cx="150.2" cy="854.8" r="7" fill="url(#sp)"/>
<circle cx="153.2" cy="851.1" r="7" fill="url(#sp)"/>
<circle cx="156.1" cy="847.3" r="7" fill="url(#sp)"/>
<circle cx="159.1" cy="844.3" r="7" fill="url(#sp)"/>
<circle cx="162.1" cy="843" r="7" fill="url(#sp)"/>
<circle cx="165" cy="842.1" r="7" fill="url(#sp)"/>
<circle cx="168" cy="841.5" r="7" fill="url(#sp)"/>
<circle cx="170.9" cy="841.6" r="7" fill="url(#sp)"/>
<circle cx="173.9" cy="841.9" r="7" fill="url(#sp)"/>
<circle cx="176.9" cy="842.3" r="7" fill="url(#sp)"/>
<circle cx="179.8" cy="842.6" r="7" fill="url(#sp)"/>
<circle cx="182.8" cy="842.6" r="7" fill="url(#sp)"/>
<circle cx="185.7" cy="842.5" r="7" fill="url(#sp)"/>
<circle cx="188.7" cy="842.3" r="7" fill="url(#sp)"/>
<circle cx="191.7" cy="842" r="7" fill="url(#sp)"/>
<circle cx="194.6" cy="841.6" r="7" fill="url(#sp)"/>
<circle cx="197.6" cy="841" r="7" fill="url(#sp)"/>
<circle cx="200.5" cy="839.9" r="7" fill="url(#sp)"/>
<circle cx="203.5" cy="838.4" r="7" fill="url(#sp)"/>
<circle cx="206.5" cy="835.1" r="7" fill="url(#sp)"/>
<circle cx="209.4" cy="829.2" r="7" fill="url(#sp)"/>
<circle cx="212.4" cy="822.3" r="7" fill="url(#sp)"/>
<circle cx="215.3" cy="813.2" r="7" fill="url(#sp)"/>
<circle cx="218.3" cy="804.3" r="7" fill="url(#sp)"/>
<circle cx="221.3" cy="795.9" r="7" fill="url(#sp)"/>
<circle cx="224.2" cy="790" r="7" fill="url(#sp)"/>
<circle cx="227.2" cy="784.6" r="7" fill="url(#sp)"/>
<circle cx="230.1" cy="775.7" r="7" fill="url(#sp)"/>
<circle cx="233.1" cy="764.7" r="7" fill="url(#sp)"/>
<circle cx="236.1" cy="755.8" r="7" fill="url(#sp)"/>
<circle cx="239" cy="746.5" r="7" fill="url(#sp)"/>
<circle cx="242" cy="732.9" r="7" fill="url(#sp)"/>
<circle cx="244.9" cy="718.6" r="7" fill="url(#sp)"/>
<circle cx="247.9" cy="707.7" r="7" fill="url(#sp)"/>
<circle cx="250.9" cy="698.3" r="7" fill="url(#sp)"/>
<circle cx="253.8" cy="692.8" r="7" fill="url(#sp)"/>
<circle cx="256.8" cy="690.1" r="7" fill="url(#sp)"/>
<circle cx="259.7" cy="690.5" r="7" fill="url(#sp)"/>
<circle cx="262.7" cy="691.5" r="7" fill="url(#sp)"/>
<circle cx="265.7" cy="693.2" r="7" fill="url(#sp)"/>
<circle cx="268.6" cy="696.6" r="7" fill="url(#sp)"/>
<circle cx="271.6" cy="694.9" r="7" fill="url(#sp)"/>
<circle cx="274.5" cy="690.5" r="7" fill="url(#sp)"/>
<circle cx="277.5" cy="685.8" r="7" fill="url(#sp)"/>
<circle cx="280.5" cy="681.2" r="7" fill="url(#sp)"/>
<circle cx="283.4" cy="676.4" r="7" fill="url(#sp)"/>
<circle cx="286.4" cy="672.6" r="7" fill="url(#sp)"/>
<circle cx="289.3" cy="670.1" r="7" fill="url(#sp)"/>
<circle cx="292.3" cy="668.2" r="7" fill="url(#sp)"/>
<circle cx="295.3" cy="665.9" r="7" fill="url(#sp)"/>
<circle cx="298.2" cy="662.6" r="7" fill="url(#sp)"/>
<circle cx="301.2" cy="657.4" r="7" fill="url(#sp)"/>
<circle cx="304.1" cy="651.6" r="7" fill="url(#sp)"/>
<circle cx="307.1" cy="646.6" r="7" fill="url(#sp)"/>
<circle cx="310.1" cy="641.8" r="7" fill="url(#sp)"/>
<circle cx="313" cy="637.2" r="7" fill="url(#sp)"/>
<circle cx="316" cy="632.5" r="7" fill="url(#sp)"/>
<circle cx="318.9" cy="627.8" r="7" fill="url(#sp)"/>
<circle cx="321.9" cy="623.1" r="7" fill="url(#sp)"/>
<circle cx="324.9" cy="618.3" r="7" fill="url(#sp)"/>
<circle cx="327.8" cy="613.3" r="7" fill="url(#sp)"/>
<circle cx="330.8" cy="606.6" r="7" fill="url(#sp)"/>
<circle cx="333.7" cy="601" r="7" fill="url(#sp)"/>
<circle cx="336.7" cy="599.7" r="7" fill="url(#sp)"/>
<circle cx="339.7" cy="599.7" r="7" fill="url(#sp)"/>
<circle cx="342.6" cy="599.8" r="7" fill="url(#sp)"/>
<circle cx="345.6" cy="602.3" r="7" fill="url(#sp)"/>
<circle cx="348.5" cy="607" r="7" fill="url(#sp)"/>
<circle cx="351.5" cy="611.8" r="7" fill="url(#sp)"/>
<circle cx="354.5" cy="617.5" r="7" fill="url(#sp)"/>
<circle cx="357.4" cy="623.2" r="7" fill="url(#sp)"/>
<circle cx="360.4" cy="626.5" r="7" fill="url(#sp)"/>
<circle cx="363.3" cy="628.8" r="7" fill="url(#sp)"/>
<circle cx="366.3" cy="630.5" r="7" fill="url(#sp)"/>
<circle cx="369.3" cy="631.7" r="7" fill="url(#sp)"/>
<circle cx="372.2" cy="632.5" r="7" fill="url(#sp)"/>
<circle cx="375.2" cy="633" r="7" fill="url(#sp)"/>
<circle cx="378.1" cy="633.5" r="7" fill="url(#sp)"/>
<circle cx="381.1" cy="634.3" r="7" fill="url(#sp)"/>
<circle cx="384.1" cy="635.8" r="7" fill="url(#sp)"/>
<circle cx="387" cy="638.4" r="7" fill="url(#sp)"/>
<circle cx="390" cy="645.9" r="7" fill="url(#sp)"/>
<circle cx="392.9" cy="655.2" r="7" fill="url(#sp)"/>
<circle cx="395.9" cy="662.6" r="7" fill="url(#sp)"/>
<circle cx="398.9" cy="669.4" r="7" fill="url(#sp)"/>
<circle cx="401.8" cy="686.5" r="7" fill="url(#sp)"/>
<circle cx="404.8" cy="706.2" r="7" fill="url(#sp)"/>
<circle cx="407.7" cy="726" r="7" fill="url(#sp)"/>
<circle cx="410.7" cy="742.9" r="7" fill="url(#sp)"/>
<circle cx="413.7" cy="756.5" r="7" fill="url(#sp)"/>
<circle cx="416.6" cy="772.3" r="7" fill="url(#sp)"/>
<circle cx="419.6" cy="788" r="7" fill="url(#sp)"/>
<circle cx="422.5" cy="794.9" r="7" fill="url(#sp)"/>
<circle cx="425.5" cy="802.1" r="7" fill="url(#sp)"/>
<circle cx="428.5" cy="811.1" r="7" fill="url(#sp)"/>
<circle cx="431.4" cy="820.2" r="7" fill="url(#sp)"/>
<circle cx="434.4" cy="827.6" r="7" fill="url(#sp)"/>
<circle cx="437.3" cy="836.8" r="7" fill="url(#sp)"/>
<circle cx="440.3" cy="848.1" r="7" fill="url(#sp)"/>
<circle cx="443.3" cy="857.3" r="7" fill="url(#sp)"/>
<circle cx="446.2" cy="867.5" r="7" fill="url(#sp)"/>
<circle cx="449.2" cy="878.2" r="7" fill="url(#sp)"/>
<circle cx="452.1" cy="888.4" r="7" fill="url(#sp)"/>
<circle cx="455.1" cy="901.7" r="7" fill="url(#sp)"/>
<circle cx="458.1" cy="914.3" r="7" fill="url(#sp)"/>
<circle cx="461" cy="924" r="7" fill="url(#sp)"/>
<circle cx="464" cy="933" r="7" fill="url(#sp)"/>
<circle cx="466.9" cy="942.3" r="7" fill="url(#sp)"/>
<circle cx="469.9" cy="949.4" r="7" fill="url(#sp)"/>
<circle cx="472.9" cy="955.9" r="7" fill="url(#sp)"/>
<circle cx="475.8" cy="963.3" r="7" fill="url(#sp)"/>
<circle cx="478.8" cy="972.2" r="7" fill="url(#sp)"/>
<circle cx="481.7" cy="980.6" r="7" fill="url(#sp)"/>
<circle cx="484.7" cy="990.8" r="7" fill="url(#sp)"/>
<circle cx="487.7" cy="1000.9" r="7" fill="url(#sp)"/>
<circle cx="490.6" cy="1013" r="7" fill="url(#sp)"/>
<circle cx="549.8" cy="1021.9" r="7" fill="url(#sp)"/>
<circle cx="552.8" cy="1009.9" r="7" fill="url(#sp)"/>
<circle cx="555.7" cy="1003.6" r="7" fill="url(#sp)"/>
<circle cx="558.7" cy="994.8" r="7" fill="url(#sp)"/>
<circle cx="561.7" cy="984.8" r="7" fill="url(#sp)"/>
<circle cx="564.6" cy="974.3" r="7" fill="url(#sp)"/>
<circle cx="567.6" cy="965" r="7" fill="url(#sp)"/>
<circle cx="570.5" cy="956" r="7" fill="url(#sp)"/>
<circle cx="573.5" cy="948.3" r="7" fill="url(#sp)"/>
<circle cx="576.5" cy="943.1" r="7" fill="url(#sp)"/>
<circle cx="579.4" cy="940.6" r="7" fill="url(#sp)"/>
<circle cx="582.4" cy="938.9" r="7" fill="url(#sp)"/>
<circle cx="585.3" cy="937" r="7" fill="url(#sp)"/>
<circle cx="588.3" cy="934.9" r="7" fill="url(#sp)"/>
<circle cx="591.3" cy="933" r="7" fill="url(#sp)"/>
<circle cx="594.2" cy="931.2" r="7" fill="url(#sp)"/>
<circle cx="597.2" cy="929.7" r="7" fill="url(#sp)"/>
<circle cx="600.1" cy="928.3" r="7" fill="url(#sp)"/>
<circle cx="603.1" cy="926.8" r="7" fill="url(#sp)"/>
<circle cx="606.1" cy="925.2" r="7" fill="url(#sp)"/>
<circle cx="609" cy="923.5" r="7" fill="url(#sp)"/>
<circle cx="612" cy="922.2" r="7" fill="url(#sp)"/>
<circle cx="614.9" cy="921.2" r="7" fill="url(#sp)"/>
<circle cx="617.9" cy="920.5" r="7" fill="url(#sp)"/>
<circle cx="620.9" cy="921" r="7" fill="url(#sp)"/>
<circle cx="623.8" cy="923.6" r="7" fill="url(#sp)"/>
<circle cx="626.8" cy="926.3" r="7" fill="url(#sp)"/>
<circle cx="629.7" cy="929.2" r="7" fill="url(#sp)"/>
<circle cx="632.7" cy="932.4" r="7" fill="url(#sp)"/>
<circle cx="635.7" cy="935.9" r="7" fill="url(#sp)"/>
<circle cx="638.6" cy="939.9" r="7" fill="url(#sp)"/>
<circle cx="641.6" cy="944.5" r="7" fill="url(#sp)"/>
<circle cx="644.5" cy="950" r="7" fill="url(#sp)"/>
<circle cx="647.5" cy="956.3" r="7" fill="url(#sp)"/>
<circle cx="650.5" cy="963.2" r="7" fill="url(#sp)"/>
<circle cx="653.4" cy="972.3" r="7" fill="url(#sp)"/>
<circle cx="656.4" cy="984.3" r="7" fill="url(#sp)"/>
<circle cx="659.3" cy="993.8" r="7" fill="url(#sp)"/>
<circle cx="662.3" cy="999.3" r="7" fill="url(#sp)"/>
<circle cx="665.3" cy="1001" r="7" fill="url(#sp)"/>
<circle cx="668.2" cy="1002" r="7" fill="url(#sp)"/>
<circle cx="671.2" cy="1003.1" r="7" fill="url(#sp)"/>
<circle cx="674.1" cy="1004.1" r="7" fill="url(#sp)"/>
<circle cx="677.1" cy="1005.3" r="7" fill="url(#sp)"/>
<circle cx="680.1" cy="1007" r="7" fill="url(#sp)"/>
<circle cx="683" cy="1010" r="7" fill="url(#sp)"/>
<circle cx="686" cy="1013.1" r="7" fill="url(#sp)"/>
<circle cx="688.9" cy="1015.8" r="7" fill="url(#sp)"/>
</g>
<polyline points="38.9,1015.8 40.1,1015.8 41.3,1015.7 42.5,1015.7 43.7,1015.6 44.9,1015.6 46.1,1015.5 47.3,1015.5 48.5,1015.5 49.7,1015.4 50.9,1015.4 52.1,1015.3 53.3,1015.3 54.5,1015.2 55.7,1015.1 56.9,1015.1 58.1,1015 59.3,1014.9 60.5,1014.9 61.7,1014.8 62.9,1014.7 64.1,1014.7 65.3,1014.6 66.5,1014.5 67.7,1014.4 68.9,1014.3 70.1,1014.2 71.3,1014.1 72.5,1014 73.7,1013.9 74.9,1013.8 76.1,1013.6 77.3,1013.5 78.5,1013.4 79.7,1013.2 80.9,1013.1 82.1,1012.9 83.3,1012.8 84.5,1012.6 85.7,1012.4 86.9,1012.3 88.1,1012.1 89.3,1011.9 90.5,1011.7 91.7,1011.4 92.9,1011.2 94.1,1011 95.3,1010.7 96.5,1010.4 97.7,1010.2 98.9,1009.9 100.1,1009.6 101.3,1009.3 102.5,1008.9 103.7,1008.6 104.9,1008.2 106.1,1007.8 107.3,1007.4 108.5,1007 109.7,1006.6 110.9,1006.2 112.1,1005.7 113.3,1005.2 114.5,1004.7 115.7,1004.2 116.9,1003.6 118.1,1003 119.3,1002.4 120.5,1001.8 121.7,1001.2 122.9,1000.5 124.1,999.8 125.3,999 126.5,998.3 127.7,997.5 128.9,996.7 130.1,995.8 131.3,994.9 132.5,994 133.7,993.1 134.9,992.1 136.1,991.1 137.3,990 138.5,988.9 139.7,987.8 140.9,986.6 142.1,985.4 143.3,984.1 144.5,982.9 145.7,981.5 146.9,980.1 148.1,978.7 149.3,977.2 150.5,975.7 151.7,974.2 152.9,972.6 154.1,970.9 155.3,969.2 156.5,967.4 157.7,965.6 158.9,963.8 160.1,961.9 161.3,959.9 162.5,957.9 163.7,955.9 164.9,953.7 166.1,951.6 167.3,949.4 168.5,947.1 169.7,944.8 170.9,942.4 172.1,940 173.3,937.5 174.5,934.9 175.7,932.3 176.9,929.7 178.1,927 179.3,924.3 180.5,921.5 181.7,918.6 182.9,915.7 184.1,912.7 185.3,909.7 186.5,906.7 187.7,903.6 188.9,900.4 190.1,897.2 191.3,894 192.5,890.7 193.7,887.4 194.9,884 196.1,880.6 197.3,877.2 198.5,873.7 199.7,870.2 200.9,866.7 202.1,863.1 203.3,859.5 204.5,855.9 205.7,852.2 206.9,848.5 208.1,844.9 209.3,841.1 210.5,837.4 211.7,833.7 212.9,829.9 214.1,826.2 215.3,822.4 216.5,818.7 217.7,814.9 218.9,811.1 220.1,807.4 221.3,803.7 222.5,799.9 223.7,796.2 224.9,792.6 226.1,788.9 227.3,785.3 228.5,781.7 229.7,778.1 230.9,774.6 232.1,771.1 233.3,767.6 234.5,764.2 235.7,760.9 236.9,757.6 238.1,754.3 239.3,751.2 240.5,748.1 241.7,745 242.9,742 244.1,739.2 245.3,736.3 246.5,733.6 247.7,731 248.9,728.4 250.1,725.9 251.3,723.6 252.5,721.3 253.7,719.1 254.9,717.1 256.1,715.1 257.3,713.3 258.5,711.5 259.7,709.9 260.9,708.4 262.1,707 263.3,705.7 264.5,704.6 265.7,703.6 266.9,702.7 268.1,701.9 269.3,701.3 270.5,700.8 271.7,700.4 272.9,700.1 274.1,700 275.3,700 276.5,700.2 277.7,700.4 278.9,700.8 280.1,701.3 281.3,702 282.5,702.7 283.7,703.6 284.9,704.6 286.1,705.8 287.3,707 288.5,708.4 289.7,709.9 290.9,711.5 292.1,713.2 293.3,715 294.5,717 295.7,719 296.9,721.1 298.1,723.4 299.3,725.7 300.5,728.2 301.7,730.7 302.9,733.3 304.1,736 305.3,738.8 306.5,741.7 307.7,744.7 308.9,747.7 310.1,750.8 311.3,753.9 312.5,757.2 313.7,760.5 314.9,763.8 316.1,767.2 317.3,770.7 318.5,774.2 319.7,777.7 320.9,781.3 322.1,784.9 323.3,788.6 324.5,792.3 325.7,796 326.9,799.7 328.1,803.5 329.3,807.2 330.5,811 331.7,814.8 332.9,818.6 334.1,822.4 335.3,826.2 336.5,830 337.7,833.9 338.9,837.6 340.1,841.4 341.3,845.2 342.5,849 343.7,852.7 344.9,856.4 346.1,860.1 347.3,863.8 348.5,867.4 349.7,871 350.9,874.6 352.1,878.2 353.3,881.7 354.5,885.2 355.7,888.6 356.9,892 358.1,895.3 359.3,898.7 360.5,901.9 361.7,905.1 362.9,908.3 364.1,911.4 365.3,914.5 366.5,917.5 367.7,920.5 368.9,923.4 370.1,926.3 371.3,929.1 372.5,931.8 373.7,934.5 374.9,937.2 376.1,939.8 377.3,942.3 378.5,944.8 379.7,947.2 380.9,949.6 382.1,951.9 383.3,954.2 384.5,956.4 385.7,958.6 386.9,960.7 388.1,962.7 389.3,964.7 390.5,966.7 391.7,968.5 392.9,970.4 394.1,972.2 395.3,973.9 396.5,975.6 397.7,977.2 398.9,978.8 400.1,980.3 401.3,981.8 402.5,983.3 403.7,984.7 404.9,986 406.1,987.3 407.3,988.6 408.5,989.8 409.7,991 410.9,992.1 412.1,993.2 413.3,994.3 414.5,995.3 415.7,996.3 416.9,997.2 418.1,998.2 419.3,999 420.5,999.9 421.7,1000.7 422.9,1001.5 424.1,1002.2 425.3,1003 426.5,1003.7 427.7,1004.3 428.9,1005 430.1,1005.6 431.3,1006.2 432.5,1006.7 433.7,1007.3 434.9,1007.8 436.1,1008.3 437.3,1008.8 438.5,1009.2 439.7,1009.6 440.9,1010 442.1,1010.4 443.3,1010.8 444.5,1011.2 445.7,1011.5 446.9,1011.8 448.1,1012.2 449.3,1012.5 450.5,1012.7 451.7,1013 452.9,1013.3 454.1,1013.5 455.3,1013.7 456.5,1014 457.7,1014.2 458.9,1014.4 460.1,1014.6 461.3,1014.7 462.5,1014.9 463.7,1015.1 464.9,1015.2 466.1,1015.4 467.3,1015.5 468.5,1015.6 469.7,1015.8 470.9,1015.9 472.1,1016 473.3,1016.1 474.5,1016.2 475.7,1016.3 476.9,1016.4 478.1,1016.5 479.3,1016.6 480.5,1016.6 481.7,1016.7 482.9,1016.8 484.1,1016.8 485.3,1016.9 486.5,1017 487.7,1017 488.9,1017.1 490.1,1017.1 491.3,1017.2 492.5,1017.2 493.7,1017.2 494.9,1017.3 496.1,1017.3 497.3,1017.4 498.5,1017.4 499.7,1017.4 500.9,1017.5 502.1,1017.5 503.3,1017.5 504.5,1017.5 505.7,1017.6 506.9,1017.6 508.1,1017.6 509.3,1017.6 510.5,1017.6 511.7,1017.7 512.9,1017.7 514.1,1017.7 515.3,1017.7 516.5,1017.7 517.7,1017.7 518.9,1017.8 520.1,1017.8 521.3,1017.8 522.5,1017.8 523.7,1017.8 524.9,1017.8 526.1,1017.8 527.3,1017.8 528.5,1017.9 529.7,1017.9 530.9,1017.9 532.1,1017.9 533.3,1017.9 534.5,1017.9 535.7,1017.9 536.9,1017.9 538.1,1017.9 539.3,1017.9 540.5,1017.9 541.7,1017.9 542.9,1018 544.1,1018 545.3,1018 546.5,1018 547.7,1018 548.9,1018 550.1,1018 551.3,1018 552.5,1018 553.7,1018 554.9,1018 556.1,1018 557.3,1018 558.5,1018 559.7,1018 560.9,1018 562.1,1018 563.3,1018 564.5,1018.1 565.7,1018.1 566.9,1018.1 568.1,1018.1 569.3,1018.1 570.5,1018.1 571.7,1018.1 572.9,1018.1 574.1,1018.1 575.3,1018.1 576.5,1018.1 577.7,1018.1 578.9,1018.1 580.1,1018.1 581.3,1018.1 582.5,1018.1 583.7,1018.1 584.9,1018.1 586.1,1018.1 587.3,1018.1 588.5,1018.1 589.7,1018.1 590.9,1018.1 592.1,1018.1 593.3,1018.1 594.5,1018.1 595.7,1018.2 596.9,1018.2 598.1,1018.2 599.3,1018.2 600.5,1018.2 601.7,1018.2 602.9,1018.2 604.1,1018.2 605.3,1018.2 606.5,1018.2 607.7,1018.2 608.9,1018.2 610.1,1018.2 611.3,1018.2 612.5,1018.2 613.7,1018.2 614.9,1018.2 616.1,1018.2 617.3,1018.2 618.5,1018.2 619.7,1018.2 620.9,1018.2 622.1,1018.2 623.3,1018.2 624.5,1018.2 625.7,1018.2 626.9,1018.2 628.1,1018.2 629.3,1018.2 630.5,1018.2 631.7,1018.2 632.9,1018.2 634.1,1018.2 635.3,1018.2 636.5,1018.2 637.7,1018.2 638.9,1018.2 640.1,1018.3 641.3,1018.3 642.5,1018.3 643.7,1018.3 644.9,1018.3 646.1,1018.3 647.3,1018.3 648.5,1018.3 649.7,1018.3 650.9,1018.3 652.1,1018.3 653.3,1018.3 654.5,1018.3 655.7,1018.3 656.9,1018.3 658.1,1018.3 659.3,1018.3 660.5,1018.3 661.7,1018.3 662.9,1018.3 664.1,1018.3 665.3,1018.3 666.5,1018.3 667.7,1018.3 668.9,1018.3 670.1,1018.3 671.3,1018.3 672.5,1018.3 673.7,1018.3 674.9,1018.3 676.1,1018.3 677.3,1018.3 678.5,1018.3 679.7,1018.3 680.9,1018.3 682.1,1018.3 683.3,1018.3 684.5,1018.3 685.7,1018.3 686.9,1018.3 688.1,1018.3 689.3,1018.3 690.5,1018.3 691.7,1018.3 692.9,1018.3 694.1,1018.3 695.3,1018.3 696.5,1018.3 697.7,1018.3 698.9,1018.3 700.1,1018.3" fill="none" stroke="#ff0000" stroke-width="2.8" stroke-linejoin="round"/>
<polyline points="38.9,1017.7 40.1,1017.7 41.3,1017.7 42.5,1017.7 43.7,1017.7 44.9,1017.7 46.1,1017.7 47.3,1017.7 48.5,1017.7 49.7,1017.7 50.9,1017.7 52.1,1017.7 53.3,1017.6 54.5,1017.6 55.7,1017.6 56.9,1017.6 58.1,1017.6 59.3,1017.6 60.5,1017.6 61.7,1017.6 62.9,1017.6 64.1,1017.6 65.3,1017.6 66.5,1017.6 67.7,1017.6 68.9,1017.5 70.1,1017.5 71.3,1017.5 72.5,1017.5 73.7,1017.5 74.9,1017.5 76.1,1017.5 77.3,1017.5 78.5,1017.5 79.7,1017.5 80.9,1017.5 82.1,1017.5 83.3,1017.4 84.5,1017.4 85.7,1017.4 86.9,1017.4 88.1,1017.4 89.3,1017.4 90.5,1017.4 91.7,1017.4 92.9,1017.4 94.1,1017.4 95.3,1017.3 96.5,1017.3 97.7,1017.3 98.9,1017.3 100.1,1017.3 101.3,1017.3 102.5,1017.3 103.7,1017.3 104.9,1017.2 106.1,1017.2 107.3,1017.2 108.5,1017.2 109.7,1017.2 110.9,1017.2 112.1,1017.2 113.3,1017.2 114.5,1017.1 115.7,1017.1 116.9,1017.1 118.1,1017.1 119.3,1017.1 120.5,1017.1 121.7,1017.1 122.9,1017 124.1,1017 125.3,1017 126.5,1017 127.7,1017 128.9,1017 130.1,1017 131.3,1016.9 132.5,1016.9 133.7,1016.9 134.9,1016.9 136.1,1016.9 137.3,1016.9 138.5,1016.8 139.7,1016.8 140.9,1016.8 142.1,1016.8 143.3,1016.8 144.5,1016.7 145.7,1016.7 146.9,1016.7 148.1,1016.7 149.3,1016.7 150.5,1016.6 151.7,1016.6 152.9,1016.6 154.1,1016.6 155.3,1016.6 156.5,1016.5 157.7,1016.5 158.9,1016.5 160.1,1016.5 161.3,1016.4 162.5,1016.4 163.7,1016.4 164.9,1016.4 166.1,1016.3 167.3,1016.3 168.5,1016.3 169.7,1016.2 170.9,1016.2 172.1,1016.2 173.3,1016.2 174.5,1016.1 175.7,1016.1 176.9,1016.1 178.1,1016 179.3,1016 180.5,1015.9 181.7,1015.9 182.9,1015.9 184.1,1015.8 185.3,1015.8 186.5,1015.7 187.7,1015.7 188.9,1015.6 190.1,1015.6 191.3,1015.5 192.5,1015.5 193.7,1015.4 194.9,1015.4 196.1,1015.3 197.3,1015.2 198.5,1015.2 199.7,1015.1 200.9,1015 202.1,1014.9 203.3,1014.9 204.5,1014.8 205.7,1014.7 206.9,1014.6 208.1,1014.5 209.3,1014.4 210.5,1014.3 211.7,1014.1 212.9,1014 214.1,1013.9 215.3,1013.7 216.5,1013.6 217.7,1013.4 218.9,1013.2 220.1,1013.1 221.3,1012.9 222.5,1012.7 223.7,1012.5 224.9,1012.2 226.1,1012 227.3,1011.7 228.5,1011.4 229.7,1011.2 230.9,1010.8 232.1,1010.5 233.3,1010.2 234.5,1009.8 235.7,1009.4 236.9,1009 238.1,1008.6 239.3,1008.1 240.5,1007.6 241.7,1007.1 242.9,1006.5 244.1,1006 245.3,1005.3 246.5,1004.7 247.7,1004 248.9,1003.3 250.1,1002.5 251.3,1001.7 252.5,1000.9 253.7,1000 254.9,999.1 256.1,998.1 257.3,997.1 258.5,996 259.7,994.8 260.9,993.7 262.1,992.4 263.3,991.1 264.5,989.7 265.7,988.3 266.9,986.8 268.1,985.3 269.3,983.7 270.5,982 271.7,980.2 272.9,978.4 274.1,976.5 275.3,974.5 276.5,972.5 277.7,970.3 278.9,968.1 280.1,965.8 281.3,963.5 282.5,961 283.7,958.5 284.9,955.9 286.1,953.2 287.3,950.4 288.5,947.6 289.7,944.6 290.9,941.6 292.1,938.5 293.3,935.3 294.5,932.1 295.7,928.7 296.9,925.3 298.1,921.8 299.3,918.3 300.5,914.6 301.7,910.9 302.9,907.2 304.1,903.3 305.3,899.4 306.5,895.5 307.7,891.5 308.9,887.4 310.1,883.3 311.3,879.2 312.5,875 313.7,870.8 314.9,866.6 316.1,862.3 317.3,858 318.5,853.7 319.7,849.4 320.9,845.1 322.1,840.8 323.3,836.5 324.5,832.2 325.7,828 326.9,823.7 328.1,819.6 329.3,815.4 330.5,811.3 331.7,807.3 332.9,803.3 334.1,799.4 335.3,795.6 336.5,791.9 337.7,788.3 338.9,784.8 340.1,781.3 341.3,778 342.5,774.9 343.7,771.8 344.9,768.9 346.1,766.2 347.3,763.6 348.5,761.1 349.7,758.8 350.9,756.7 352.1,754.8 353.3,753 354.5,751.5 355.7,750.1 356.9,748.9 358.1,747.9 359.3,747.1 360.5,746.5 361.7,746.1 362.9,745.9 364.1,745.9 365.3,746.1 366.5,746.4 367.7,746.9 368.9,747.6 370.1,748.4 371.3,749.4 372.5,750.5 373.7,751.8 374.9,753.3 376.1,754.9 377.3,756.6 378.5,758.5 379.7,760.5 380.9,762.7 382.1,764.9 383.3,767.4 384.5,769.9 385.7,772.5 386.9,775.3 388.1,778.2 389.3,781.2 390.5,784.2 391.7,787.4 392.9,790.7 394.1,794 395.3,797.4 396.5,800.9 397.7,804.5 398.9,808.1 400.1,811.8 401.3,815.5 402.5,819.3 403.7,823.1 404.9,827 406.1,830.9 407.3,834.8 408.5,838.7 409.7,842.7 410.9,846.6 412.1,850.6 413.3,854.5 414.5,858.5 415.7,862.5 416.9,866.4 418.1,870.3 419.3,874.2 420.5,878.1 421.7,881.9 422.9,885.7 424.1,889.5 425.3,893.3 426.5,897 427.7,900.6 428.9,904.2 430.1,907.8 431.3,911.3 432.5,914.7 433.7,918.1 434.9,921.5 436.1,924.7 437.3,928 438.5,931.1 439.7,934.2 440.9,937.2 442.1,940.2 443.3,943.1 444.5,945.9 445.7,948.6 446.9,951.3 448.1,953.9 449.3,956.4 450.5,958.9 451.7,961.3 452.9,963.6 454.1,965.9 455.3,968.1 456.5,970.2 457.7,972.3 458.9,974.3 460.1,976.2 461.3,978.1 462.5,979.9 463.7,981.6 464.9,983.3 466.1,984.9 467.3,986.4 468.5,987.9 469.7,989.3 470.9,990.7 472.1,992 473.3,993.3 474.5,994.5 475.7,995.7 476.9,996.8 478.1,997.9 479.3,998.9 480.5,999.9 481.7,1000.8 482.9,1001.7 484.1,1002.6 485.3,1003.4 486.5,1004.1 487.7,1004.9 488.9,1005.6 490.1,1006.3 491.3,1006.9 492.5,1007.5 493.7,1008.1 494.9,1008.6 496.1,1009.1 497.3,1009.6 498.5,1010.1 499.7,1010.5 500.9,1010.9 502.1,1011.3 503.3,1011.7 504.5,1012 505.7,1012.4 506.9,1012.7 508.1,1013 509.3,1013.3 510.5,1013.5 511.7,1013.8 512.9,1014 514.1,1014.2 515.3,1014.4 516.5,1014.6 517.7,1014.8 518.9,1015 520.1,1015.1 521.3,1015.3 522.5,1015.4 523.7,1015.6 524.9,1015.7 526.1,1015.8 527.3,1015.9 528.5,1016 529.7,1016.1 530.9,1016.2 532.1,1016.3 533.3,1016.4 534.5,1016.5 535.7,1016.5 536.9,1016.6 538.1,1016.7 539.3,1016.7 540.5,1016.8 541.7,1016.8 542.9,1016.9 544.1,1016.9 545.3,1017 546.5,1017 547.7,1017.1 548.9,1017.1 550.1,1017.1 551.3,1017.2 552.5,1017.2 553.7,1017.2 554.9,1017.3 556.1,1017.3 557.3,1017.3 558.5,1017.3 559.7,1017.4 560.9,1017.4 562.1,1017.4 563.3,1017.4 564.5,1017.4 565.7,1017.5 566.9,1017.5 568.1,1017.5 569.3,1017.5 570.5,1017.5 571.7,1017.5 572.9,1017.6 574.1,1017.6 575.3,1017.6 576.5,1017.6 577.7,1017.6 578.9,1017.6 580.1,1017.6 581.3,1017.7 582.5,1017.7 583.7,1017.7 584.9,1017.7 586.1,1017.7 587.3,1017.7 588.5,1017.7 589.7,1017.7 590.9,1017.7 592.1,1017.7 593.3,1017.8 594.5,1017.8 595.7,1017.8 596.9,1017.8 598.1,1017.8 599.3,1017.8 600.5,1017.8 601.7,1017.8 602.9,1017.8 604.1,1017.8 605.3,1017.8 606.5,1017.8 607.7,1017.8 608.9,1017.9 610.1,1017.9 611.3,1017.9 612.5,1017.9 613.7,1017.9 614.9,1017.9 616.1,1017.9 617.3,1017.9 618.5,1017.9 619.7,1017.9 620.9,1017.9 622.1,1017.9 623.3,1017.9 624.5,1017.9 625.7,1017.9 626.9,1017.9 628.1,1018 629.3,1018 630.5,1018 631.7,1018 632.9,1018 634.1,1018 635.3,1018 636.5,1018 637.7,1018 638.9,1018 640.1,1018 641.3,1018 642.5,1018 643.7,1018 644.9,1018 646.1,1018 647.3,1018 648.5,1018 649.7,1018 650.9,1018 652.1,1018.1 653.3,1018.1 654.5,1018.1 655.7,1018.1 656.9,1018.1 658.1,1018.1 659.3,1018.1 660.5,1018.1 661.7,1018.1 662.9,1018.1 664.1,1018.1 665.3,1018.1 666.5,1018.1 667.7,1018.1 668.9,1018.1 670.1,1018.1 671.3,1018.1 672.5,1018.1 673.7,1018.1 674.9,1018.1 676.1,1018.1 677.3,1018.1 678.5,1018.1 679.7,1018.1 680.9,1018.1 682.1,1018.1 683.3,1018.2 684.5,1018.2 685.7,1018.2 686.9,1018.2 688.1,1018.2 689.3,1018.2 690.5,1018.2 691.7,1018.2 692.9,1018.2 694.1,1018.2 695.3,1018.2 696.5,1018.2 697.7,1018.2 698.9,1018.2 700.1,1018.2" fill="none" stroke="#000" stroke-width="2.6" stroke-linejoin="round"/>
<line x1="461" y1="1018.6" x2="700.8" y2="1018.6" stroke="#008000" stroke-width="3.2"/>
<polyline points="38.9,1017.7 40.1,1017.7 41.3,1017.7 42.5,1017.6 43.7,1017.6 44.9,1017.5 46.1,1017.5 47.3,1017.4 48.5,1017.3 49.7,1017.3 50.9,1017.2 52.1,1017.1 53.3,1017 54.5,1016.9 55.7,1016.8 56.9,1016.6 58.1,1016.5 59.3,1016.3 60.5,1016.1 61.7,1015.9 62.9,1015.7 64.1,1015.5 65.3,1015.2 66.5,1014.9 67.7,1014.6 68.9,1014.3 70.1,1013.9 71.3,1013.5 72.5,1013 73.7,1012.5 74.9,1012 76.1,1011.4 77.3,1010.8 78.5,1010.1 79.7,1009.4 80.9,1008.6 82.1,1007.7 83.3,1006.8 84.5,1005.8 85.7,1004.8 86.9,1003.6 88.1,1002.4 89.3,1001.1 90.5,999.8 91.7,998.3 92.9,996.8 94.1,995.1 95.3,993.4 96.5,991.6 97.7,989.6 98.9,987.6 100.1,985.5 101.3,983.3 102.5,980.9 103.7,978.5 104.9,976 106.1,973.4 107.3,970.6 108.5,967.8 109.7,964.9 110.9,961.9 112.1,958.9 113.3,955.7 114.5,952.5 115.7,949.2 116.9,945.8 118.1,942.4 119.3,939 120.5,935.5 121.7,931.9 122.9,928.4 124.1,924.8 125.3,921.3 126.5,917.8 127.7,914.3 128.9,910.8 130.1,907.3 131.3,904 132.5,900.7 133.7,897.5 134.9,894.4 136.1,891.4 137.3,888.5 138.5,885.7 139.7,883.1 140.9,880.7 142.1,878.4 143.3,876.3 144.5,874.4 145.7,872.7 146.9,871.2 148.1,869.9 149.3,868.9 150.5,868 151.7,867.4 152.9,867 154.1,866.9 155.3,867 156.5,867.3 157.7,867.8 158.9,868.5 160.1,869.4 161.3,870.5 162.5,871.8 163.7,873.3 164.9,874.9 166.1,876.8 167.3,878.8 168.5,880.9 169.7,883.2 170.9,885.7 172.1,888.3 173.3,891 174.5,893.8 175.7,896.7 176.9,899.7 178.1,902.8 179.3,906 180.5,909.2 181.7,912.5 182.9,915.8 184.1,919.1 185.3,922.5 186.5,925.9 187.7,929.3 188.9,932.6 190.1,936 191.3,939.3 192.5,942.6 193.7,945.8 194.9,949 196.1,952.2 197.3,955.3 198.5,958.3 199.7,961.3 200.9,964.2 202.1,967 203.3,969.7 204.5,972.3 205.7,974.9 206.9,977.4 208.1,979.7 209.3,982 210.5,984.2 211.7,986.3 212.9,988.3 214.1,990.3 215.3,992.1 216.5,993.9 217.7,995.5 218.9,997.1 220.1,998.6 221.3,1000 222.5,1001.3 223.7,1002.6 224.9,1003.8 226.1,1004.9 227.3,1005.9 228.5,1006.9 229.7,1007.8 230.9,1008.7 232.1,1009.5 233.3,1010.2 234.5,1010.9 235.7,1011.5 236.9,1012.1 238.1,1012.7 239.3,1013.2 240.5,1013.6 241.7,1014.1 242.9,1014.4 244.1,1014.8 245.3,1015.1 246.5,1015.4 247.7,1015.7 248.9,1016 250.1,1016.2 251.3,1016.4 252.5,1016.6 253.7,1016.8 254.9,1016.9 256.1,1017.1 257.3,1017.2 258.5,1017.3 259.7,1017.4 260.9,1017.5 262.1,1017.6 263.3,1017.7 264.5,1017.8 265.7,1017.8 266.9,1017.9 268.1,1017.9 269.3,1018 270.5,1018 271.7,1018.1 272.9,1018.1 274.1,1018.1 275.3,1018.2 276.5,1018.2 277.7,1018.2 278.9,1018.2 280.1,1018.2 281.3,1018.3 282.5,1018.3 283.7,1018.3 284.9,1018.3 286.1,1018.3 287.3,1018.3 288.5,1018.3 289.7,1018.3 290.9,1018.3 292.1,1018.4 293.3,1018.4 294.5,1018.4 295.7,1018.4 296.9,1018.4 298.1,1018.4 299.3,1018.4 300.5,1018.4 301.7,1018.4 302.9,1018.4 304.1,1018.4 305.3,1018.4 306.5,1018.4 307.7,1018.4 308.9,1018.4 310.1,1018.4 311.3,1018.4 312.5,1018.4 313.7,1018.4 314.9,1018.4 316.1,1018.4 317.3,1018.4 318.5,1018.4 319.7,1018.4 320.9,1018.4 322.1,1018.4 323.3,1018.4 324.5,1018.4 325.7,1018.4 326.9,1018.5 328.1,1018.5 329.3,1018.5 330.5,1018.5 331.7,1018.5 332.9,1018.5 334.1,1018.5 335.3,1018.5 336.5,1018.5 337.7,1018.5 338.9,1018.5 340.1,1018.5 341.3,1018.5 342.5,1018.5 343.7,1018.5 344.9,1018.5 346.1,1018.5 347.3,1018.5 348.5,1018.5 349.7,1018.5 350.9,1018.5 352.1,1018.5 353.3,1018.5 354.5,1018.5 355.7,1018.5 356.9,1018.5 358.1,1018.5 359.3,1018.5 360.5,1018.5 361.7,1018.5 362.9,1018.5 364.1,1018.5 365.3,1018.5 366.5,1018.5 367.7,1018.5 368.9,1018.5 370.1,1018.5 371.3,1018.5 372.5,1018.5 373.7,1018.5 374.9,1018.5 376.1,1018.5 377.3,1018.5 378.5,1018.5 379.7,1018.5 380.9,1018.5 382.1,1018.5 383.3,1018.5 384.5,1018.5 385.7,1018.5 386.9,1018.5 388.1,1018.5 389.3,1018.5 390.5,1018.5 391.7,1018.5 392.9,1018.5 394.1,1018.5 395.3,1018.5 396.5,1018.5 397.7,1018.5 398.9,1018.5 400.1,1018.5 401.3,1018.5 402.5,1018.5 403.7,1018.5 404.9,1018.5 406.1,1018.5 407.3,1018.5 408.5,1018.5 409.7,1018.5 410.9,1018.5 412.1,1018.5 413.3,1018.5 414.5,1018.5 415.7,1018.5 416.9,1018.5 418.1,1018.5 419.3,1018.5 420.5,1018.5 421.7,1018.5 422.9,1018.5 424.1,1018.5 425.3,1018.5 426.5,1018.5 427.7,1018.5 428.9,1018.5 430.1,1018.5 431.3,1018.5 432.5,1018.5 433.7,1018.5 434.9,1018.5 436.1,1018.5 437.3,1018.5 438.5,1018.5 439.7,1018.5 440.9,1018.5 442.1,1018.5 443.3,1018.5 444.5,1018.5 445.7,1018.5 446.9,1018.5 448.1,1018.5 449.3,1018.5 450.5,1018.5 451.7,1018.5 452.9,1018.5 454.1,1018.5 455.3,1018.5 456.5,1018.5 457.7,1018.5 458.9,1018.6 460.1,1018.6 461.3,1018.6 462.5,1018.6 463.7,1018.6 464.9,1018.6 466.1,1018.6 467.3,1018.6 468.5,1018.6 469.7,1018.6 470.9,1018.6 472.1,1018.6 473.3,1018.6 474.5,1018.6 475.7,1018.6 476.9,1018.6 478.1,1018.6 479.3,1018.6 480.5,1018.6 481.7,1018.6 482.9,1018.6 484.1,1018.6 485.3,1018.6 486.5,1018.6 487.7,1018.6 488.9,1018.6 490.1,1018.6 491.3,1018.6 492.5,1018.6 493.7,1018.6 494.9,1018.6 496.1,1018.6 497.3,1018.6 498.5,1018.6 499.7,1018.6 500.9,1018.6 502.1,1018.6 503.3,1018.6 504.5,1018.6 505.7,1018.6 506.9,1018.6 508.1,1018.6 509.3,1018.6 510.5,1018.6 511.7,1018.6 512.9,1018.6 514.1,1018.6 515.3,1018.6 516.5,1018.6 517.7,1018.6 518.9,1018.6 520.1,1018.6 521.3,1018.6 522.5,1018.6 523.7,1018.6 524.9,1018.6 526.1,1018.6 527.3,1018.6 528.5,1018.6 529.7,1018.6 530.9,1018.6 532.1,1018.6 533.3,1018.6 534.5,1018.6 535.7,1018.6 536.9,1018.6 538.1,1018.6 539.3,1018.6 540.5,1018.6 541.7,1018.6 542.9,1018.6 544.1,1018.6 545.3,1018.6 546.5,1018.6 547.7,1018.6 548.9,1018.6 550.1,1018.6 551.3,1018.6 552.5,1018.6 553.7,1018.6 554.9,1018.6 556.1,1018.6 557.3,1018.6 558.5,1018.6 559.7,1018.6 560.9,1018.6 562.1,1018.6 563.3,1018.6 564.5,1018.6 565.7,1018.6 566.9,1018.6 568.1,1018.6 569.3,1018.6 570.5,1018.6 571.7,1018.6 572.9,1018.6 574.1,1018.6 575.3,1018.6 576.5,1018.6 577.7,1018.6 578.9,1018.6 580.1,1018.6 581.3,1018.6 582.5,1018.6 583.7,1018.6 584.9,1018.6 586.1,1018.6 587.3,1018.6 588.5,1018.6 589.7,1018.6 590.9,1018.6 592.1,1018.6 593.3,1018.6 594.5,1018.6 595.7,1018.6 596.9,1018.6 598.1,1018.6 599.3,1018.6 600.5,1018.6 601.7,1018.6 602.9,1018.6 604.1,1018.6 605.3,1018.6 606.5,1018.6 607.7,1018.6 608.9,1018.6 610.1,1018.6 611.3,1018.6 612.5,1018.6 613.7,1018.6 614.9,1018.6 616.1,1018.6 617.3,1018.6 618.5,1018.6 619.7,1018.6 620.9,1018.6 622.1,1018.6 623.3,1018.6 624.5,1018.6 625.7,1018.6 626.9,1018.6 628.1,1018.6 629.3,1018.6 630.5,1018.6 631.7,1018.6 632.9,1018.6 634.1,1018.6 635.3,1018.6 636.5,1018.6 637.7,1018.6 638.9,1018.6 640.1,1018.6 641.3,1018.6 642.5,1018.6 643.7,1018.6 644.9,1018.6 646.1,1018.6 647.3,1018.6 648.5,1018.6 649.7,1018.6 650.9,1018.6 652.1,1018.6 653.3,1018.6 654.5,1018.6 655.7,1018.6 656.9,1018.6 658.1,1018.6 659.3,1018.6 660.5,1018.6 661.7,1018.6 662.9,1018.6 664.1,1018.6 665.3,1018.6 666.5,1018.6 667.7,1018.6 668.9,1018.6 670.1,1018.6 671.3,1018.6 672.5,1018.6 673.7,1018.6 674.9,1018.6 676.1,1018.6 677.3,1018.6 678.5,1018.6 679.7,1018.6 680.9,1018.6 682.1,1018.6 683.3,1018.6 684.5,1018.6 685.7,1018.6 686.9,1018.6 688.1,1018.6 689.3,1018.6 690.5,1018.6 691.7,1018.6 692.9,1018.6 694.1,1018.6 695.3,1018.6 696.5,1018.6 697.7,1018.6 698.9,1018.6 700.1,1018.6" fill="none" stroke="#008000" stroke-width="2.8" stroke-linejoin="round"/>
<polyline points="38.9,1018.6 40.1,1018.6 41.3,1018.6 42.5,1018.6 43.7,1018.6 44.9,1018.6 46.1,1018.6 47.3,1018.6 48.5,1018.6 49.7,1018.6 50.9,1018.6 52.1,1018.6 53.3,1018.6 54.5,1018.6 55.7,1018.6 56.9,1018.6 58.1,1018.6 59.3,1018.6 60.5,1018.6 61.7,1018.6 62.9,1018.6 64.1,1018.6 65.3,1018.6 66.5,1018.6 67.7,1018.6 68.9,1018.6 70.1,1018.6 71.3,1018.6 72.5,1018.6 73.7,1018.6 74.9,1018.6 76.1,1018.6 77.3,1018.6 78.5,1018.6 79.7,1018.6 80.9,1018.6 82.1,1018.6 83.3,1018.6 84.5,1018.6 85.7,1018.6 86.9,1018.6 88.1,1018.6 89.3,1018.6 90.5,1018.6 91.7,1018.6 92.9,1018.6 94.1,1018.6 95.3,1018.6 96.5,1018.6 97.7,1018.6 98.9,1018.6 100.1,1018.6 101.3,1018.6 102.5,1018.6 103.7,1018.6 104.9,1018.6 106.1,1018.6 107.3,1018.6 108.5,1018.6 109.7,1018.6 110.9,1018.6 112.1,1018.6 113.3,1018.6 114.5,1018.6 115.7,1018.6 116.9,1018.6 118.1,1018.6 119.3,1018.6 120.5,1018.6 121.7,1018.6 122.9,1018.6 124.1,1018.6 125.3,1018.5 126.5,1018.5 127.7,1018.5 128.9,1018.5 130.1,1018.5 131.3,1018.5 132.5,1018.5 133.7,1018.5 134.9,1018.5 136.1,1018.5 137.3,1018.5 138.5,1018.5 139.7,1018.5 140.9,1018.5 142.1,1018.5 143.3,1018.5 144.5,1018.5 145.7,1018.5 146.9,1018.5 148.1,1018.5 149.3,1018.5 150.5,1018.5 151.7,1018.5 152.9,1018.5 154.1,1018.5 155.3,1018.5 156.5,1018.5 157.7,1018.5 158.9,1018.5 160.1,1018.5 161.3,1018.5 162.5,1018.5 163.7,1018.5 164.9,1018.5 166.1,1018.5 167.3,1018.5 168.5,1018.5 169.7,1018.5 170.9,1018.5 172.1,1018.5 173.3,1018.5 174.5,1018.5 175.7,1018.5 176.9,1018.5 178.1,1018.5 179.3,1018.5 180.5,1018.5 181.7,1018.5 182.9,1018.5 184.1,1018.5 185.3,1018.5 186.5,1018.5 187.7,1018.5 188.9,1018.5 190.1,1018.5 191.3,1018.5 192.5,1018.5 193.7,1018.5 194.9,1018.5 196.1,1018.5 197.3,1018.5 198.5,1018.5 199.7,1018.5 200.9,1018.5 202.1,1018.5 203.3,1018.5 204.5,1018.5 205.7,1018.5 206.9,1018.5 208.1,1018.5 209.3,1018.5 210.5,1018.5 211.7,1018.5 212.9,1018.5 214.1,1018.5 215.3,1018.5 216.5,1018.5 217.7,1018.5 218.9,1018.5 220.1,1018.5 221.3,1018.5 222.5,1018.5 223.7,1018.5 224.9,1018.5 226.1,1018.5 227.3,1018.5 228.5,1018.5 229.7,1018.5 230.9,1018.5 232.1,1018.5 233.3,1018.5 234.5,1018.5 235.7,1018.5 236.9,1018.5 238.1,1018.5 239.3,1018.5 240.5,1018.5 241.7,1018.5 242.9,1018.5 244.1,1018.5 245.3,1018.5 246.5,1018.5 247.7,1018.5 248.9,1018.5 250.1,1018.5 251.3,1018.5 252.5,1018.5 253.7,1018.5 254.9,1018.5 256.1,1018.5 257.3,1018.5 258.5,1018.5 259.7,1018.5 260.9,1018.5 262.1,1018.5 263.3,1018.5 264.5,1018.5 265.7,1018.5 266.9,1018.5 268.1,1018.5 269.3,1018.5 270.5,1018.5 271.7,1018.5 272.9,1018.5 274.1,1018.5 275.3,1018.5 276.5,1018.5 277.7,1018.5 278.9,1018.5 280.1,1018.5 281.3,1018.5 282.5,1018.5 283.7,1018.5 284.9,1018.5 286.1,1018.5 287.3,1018.5 288.5,1018.5 289.7,1018.5 290.9,1018.5 292.1,1018.5 293.3,1018.5 294.5,1018.5 295.7,1018.5 296.9,1018.5 298.1,1018.5 299.3,1018.5 300.5,1018.5 301.7,1018.5 302.9,1018.5 304.1,1018.5 305.3,1018.5 306.5,1018.5 307.7,1018.5 308.9,1018.5 310.1,1018.5 311.3,1018.5 312.5,1018.5 313.7,1018.5 314.9,1018.5 316.1,1018.5 317.3,1018.5 318.5,1018.5 319.7,1018.5 320.9,1018.5 322.1,1018.5 323.3,1018.5 324.5,1018.5 325.7,1018.5 326.9,1018.5 328.1,1018.5 329.3,1018.5 330.5,1018.5 331.7,1018.4 332.9,1018.4 334.1,1018.4 335.3,1018.4 336.5,1018.4 337.7,1018.4 338.9,1018.4 340.1,1018.4 341.3,1018.4 342.5,1018.4 343.7,1018.4 344.9,1018.4 346.1,1018.4 347.3,1018.4 348.5,1018.4 349.7,1018.4 350.9,1018.4 352.1,1018.4 353.3,1018.4 354.5,1018.4 355.7,1018.4 356.9,1018.4 358.1,1018.4 359.3,1018.4 360.5,1018.4 361.7,1018.4 362.9,1018.4 364.1,1018.4 365.3,1018.4 366.5,1018.4 367.7,1018.4 368.9,1018.4 370.1,1018.4 371.3,1018.4 372.5,1018.4 373.7,1018.4 374.9,1018.4 376.1,1018.4 377.3,1018.4 378.5,1018.4 379.7,1018.4 380.9,1018.4 382.1,1018.4 383.3,1018.4 384.5,1018.4 385.7,1018.4 386.9,1018.4 388.1,1018.4 389.3,1018.4 390.5,1018.4 391.7,1018.4 392.9,1018.4 394.1,1018.4 395.3,1018.3 396.5,1018.3 397.7,1018.3 398.9,1018.3 400.1,1018.3 401.3,1018.3 402.5,1018.3 403.7,1018.3 404.9,1018.3 406.1,1018.3 407.3,1018.3 408.5,1018.3 409.7,1018.3 410.9,1018.3 412.1,1018.3 413.3,1018.3 414.5,1018.3 415.7,1018.3 416.9,1018.3 418.1,1018.3 419.3,1018.3 420.5,1018.3 421.7,1018.3 422.9,1018.3 424.1,1018.3 425.3,1018.3 426.5,1018.3 427.7,1018.3 428.9,1018.2 430.1,1018.2 431.3,1018.2 432.5,1018.2 433.7,1018.2 434.9,1018.2 436.1,1018.2 437.3,1018.2 438.5,1018.2 439.7,1018.2 440.9,1018.2 442.1,1018.2 443.3,1018.2 444.5,1018.2 445.7,1018.2 446.9,1018.2 448.1,1018.1 449.3,1018.1 450.5,1018.1 451.7,1018.1 452.9,1018.1 454.1,1018.1 455.3,1018.1 456.5,1018.1 457.7,1018.1 458.9,1018.1 460.1,1018 461.3,1018 462.5,1018 463.7,1018 464.9,1018 466.1,1017.9 467.3,1017.9 468.5,1017.9 469.7,1017.9 470.9,1017.8 472.1,1017.8 473.3,1017.8 474.5,1017.7 475.7,1017.7 476.9,1017.7 478.1,1017.6 479.3,1017.6 480.5,1017.5 481.7,1017.5 482.9,1017.4 484.1,1017.3 485.3,1017.3 486.5,1017.2 487.7,1017.1 488.9,1017 490.1,1016.9 491.3,1016.8 492.5,1016.7 493.7,1016.5 494.9,1016.4 496.1,1016.3 497.3,1016.1 498.5,1015.9 499.7,1015.7 500.9,1015.5 502.1,1015.3 503.3,1015.1 504.5,1014.9 505.7,1014.6 506.9,1014.3 508.1,1014 509.3,1013.7 510.5,1013.4 511.7,1013 512.9,1012.6 514.1,1012.2 515.3,1011.8 516.5,1011.3 517.7,1010.8 518.9,1010.3 520.1,1009.7 521.3,1009.2 522.5,1008.5 523.7,1007.9 524.9,1007.2 526.1,1006.5 527.3,1005.7 528.5,1004.9 529.7,1004.1 530.9,1003.2 532.1,1002.3 533.3,1001.4 534.5,1000.4 535.7,999.3 536.9,998.2 538.1,997.1 539.3,995.9 540.5,994.7 541.7,993.5 542.9,992.2 544.1,990.8 545.3,989.4 546.5,988 547.7,986.5 548.9,985 550.1,983.5 551.3,981.9 552.5,980.2 553.7,978.6 554.9,976.9 556.1,975.1 557.3,973.4 558.5,971.6 559.7,969.7 560.9,967.9 562.1,966 563.3,964.1 564.5,962.2 565.7,960.3 566.9,958.4 568.1,956.4 569.3,954.5 570.5,952.6 571.7,950.7 572.9,948.7 574.1,946.8 575.3,944.9 576.5,943.1 577.7,941.2 578.9,939.4 580.1,937.7 581.3,935.9 582.5,934.3 583.7,932.6 584.9,931 586.1,929.5 587.3,928 588.5,926.6 589.7,925.3 590.9,924.1 592.1,922.9 593.3,921.8 594.5,920.8 595.7,919.8 596.9,919 598.1,918.2 599.3,917.6 600.5,917 601.7,916.6 602.9,916.2 604.1,916 605.3,915.8 606.5,915.8 607.7,915.9 608.9,916.1 610.1,916.4 611.3,916.9 612.5,917.5 613.7,918.2 614.9,919 616.1,920 617.3,921.1 618.5,922.2 619.7,923.5 620.9,924.9 622.1,926.4 623.3,927.9 624.5,929.5 625.7,931.2 626.9,933 628.1,934.8 629.3,936.7 630.5,938.7 631.7,940.7 632.9,942.7 634.1,944.7 635.3,946.8 636.5,948.9 637.7,951 638.9,953.1 640.1,955.2 641.3,957.3 642.5,959.4 643.7,961.5 644.9,963.6 646.1,965.6 647.3,967.7 648.5,969.7 649.7,971.6 650.9,973.6 652.1,975.5 653.3,977.3 654.5,979.2 655.7,980.9 656.9,982.7 658.1,984.4 659.3,986 660.5,987.6 661.7,989.1 662.9,990.6 664.1,992 665.3,993.4 666.5,994.7 667.7,996 668.9,997.2 670.1,998.4 671.3,999.5 672.5,1000.6 673.7,1001.6 674.9,1002.6 676.1,1003.5 677.3,1004.4 678.5,1005.2 679.7,1006 680.9,1006.8 682.1,1007.5 683.3,1008.1 684.5,1008.8 685.7,1009.4 686.9,1009.9 688.1,1010.4 689.3,1010.9 690.5,1011.4 691.7,1011.8 692.9,1012.2 694.1,1012.6 695.3,1013 696.5,1013.3 697.7,1013.6 698.9,1013.9 700.1,1014.2" fill="none" stroke="#00ffff" stroke-width="3.2" stroke-linejoin="round"/>
<line x1="38.9" y1="1018.6" x2="461" y2="1018.6" stroke="#00ffff" stroke-width="3.4"/>
<text x="44.6" y="990.6" font-family="&quot;Liberation Serif&quot;, serif" font-weight="bold" font-size="44" fill="#000" text-anchor="start">c</text>
<text transform="translate(155.7,829.9) rotate(-90)" font-family="&quot;Liberation Serif&quot;, serif" font-weight="bold" font-size="42" fill="#008000">Ti</text>
<text transform="translate(170.1,791.5) rotate(-90)" font-family="&quot;Liberation Serif&quot;, serif" font-weight="bold" font-size="25" fill="#008000">2P1/2</text>
<text transform="translate(270.2,858.7) rotate(-90)" font-family="&quot;Liberation Serif&quot;, serif" font-weight="bold" font-size="41" fill="#ff0000">Ti</text>
<text transform="translate(285.8,820.2) rotate(-90)" font-family="&quot;Liberation Serif&quot;, serif" font-weight="bold" font-size="25" fill="#ff0000">2p1/2(IV)</text>
<text transform="translate(289.8,650) rotate(-90)" font-family="&quot;Liberation Serif&quot;, serif" font-weight="bold" font-size="41" fill="#000">Ti</text>
<text transform="translate(304.3,611.5) rotate(-90)" font-family="&quot;Liberation Serif&quot;, serif" font-weight="bold" font-size="24.5" fill="#000">2p3/2</text>
<text transform="translate(358.2,745.3) rotate(-90)" font-family="&quot;Liberation Serif&quot;, serif" font-weight="bold" font-size="41" fill="#000">Ti</text>
<text transform="translate(374,706.4) rotate(-90)" font-family="&quot;Liberation Serif&quot;, serif" font-weight="bold" font-size="24.5" fill="#000">2p1/2</text>
<text transform="translate(624.4,909.9) rotate(-90)" font-family="&quot;Liberation Serif&quot;, serif" font-weight="bold" font-size="42" fill="#00ffff">Ti</text>
<text transform="translate(638.8,872.2) rotate(-90)" font-family="&quot;Liberation Serif&quot;, serif" font-weight="bold" font-size="25" fill="#00ffff">2p3/2(IV)</text>
<line x1="715.1" y1="1019.7" x2="1379.6" y2="1019.7" stroke="#000" stroke-width="3.4"/>
<line x1="716.8" y1="1018.2" x2="716.8" y2="1031.4" stroke="#000" stroke-width="3.6"/>
<text x="717.1" y="1066.8" font-family="&quot;Liberation Serif&quot;, serif" font-weight="bold" font-size="38" fill="#000" text-anchor="middle">287</text>
<line x1="882.1" y1="1018.2" x2="882.1" y2="1031.4" stroke="#000" stroke-width="3.6"/>
<text x="882.4" y="1066.8" font-family="&quot;Liberation Serif&quot;, serif" font-weight="bold" font-size="38" fill="#000" text-anchor="middle">286</text>
<line x1="1047.4" y1="1018.2" x2="1047.4" y2="1031.4" stroke="#000" stroke-width="3.6"/>
<text x="1047.7" y="1066.8" font-family="&quot;Liberation Serif&quot;, serif" font-weight="bold" font-size="38" fill="#000" text-anchor="middle">285</text>
<line x1="1212.7" y1="1018.2" x2="1212.7" y2="1031.4" stroke="#000" stroke-width="3.6"/>
<text x="1213" y="1066.8" font-family="&quot;Liberation Serif&quot;, serif" font-weight="bold" font-size="38" fill="#000" text-anchor="middle">284</text>
<line x1="1378" y1="1018.2" x2="1378" y2="1031.4" stroke="#000" stroke-width="3.6"/>
<text x="1378.3" y="1066.8" font-family="&quot;Liberation Serif&quot;, serif" font-weight="bold" font-size="38" fill="#000" text-anchor="middle">283</text>
<clipPath id="cd"><rect x="716.9" y="500" width="661.5" height="530"/></clipPath>
<g clip-path="url(#cd)">
<path d="M939,953.2L940.5,951.9M971.7,931L974,928.7M987.5,914.6L991.2,910.4M1003.4,895.1L1008.3,888.6M1019.1,872.3L1025.7,861.1M1034.8,843.8L1043.1,825.9M1050.3,807.7L1060.6,777M1066.6,758.3L1077.4,722.4M1083.4,703.7L1093.7,673.1M1100,654.5L1110.1,625.8M1120.7,610L1122.5,608.4M1137.4,608.2L1138.8,609.3M1150.9,624.3L1158.4,638.7M1165.9,656.7L1176.4,689.1M1182.3,707.8L1193.1,743.7M1198.8,762.5L1209.7,799.4M1215.9,818L1225.6,843.7M1233.2,861.8L1241.4,879.1M1250.4,896.5L1257.3,909M1268.4,925L1272.3,929.4M1285.2,944.1L1288.5,947.8M1303.2,960.6L1303.6,960.9" fill="none" stroke="#000" stroke-width="2.6"/>
<circle cx="716.6" cy="1008" r="7" fill="url(#sp)"/>
<circle cx="733.1" cy="1006.4" r="7" fill="url(#sp)"/>
<circle cx="749.7" cy="1005" r="7" fill="url(#sp)"/>
<circle cx="766.2" cy="1002.5" r="7" fill="url(#sp)"/>
<circle cx="782.7" cy="1000.4" r="7" fill="url(#sp)"/>
<circle cx="799.2" cy="997.2" r="7" fill="url(#sp)"/>
<circle cx="815.8" cy="994.6" r="7" fill="url(#sp)"/>
<circle cx="832.3" cy="991.5" r="7" fill="url(#sp)"/>
<circle cx="848.8" cy="989.4" r="7" fill="url(#sp)"/>
<circle cx="865.4" cy="983.7" r="7" fill="url(#sp)"/>
<circle cx="881.9" cy="980.3" r="7" fill="url(#sp)"/>
<circle cx="898.4" cy="973.8" r="7" fill="url(#sp)"/>
<circle cx="915" cy="966.5" r="7" fill="url(#sp)"/>
<circle cx="931.5" cy="959.5" r="7" fill="url(#sp)"/>
<circle cx="948" cy="945.6" r="7" fill="url(#sp)"/>
<circle cx="964.6" cy="937.7" r="7" fill="url(#sp)"/>
<circle cx="981.1" cy="922" r="7" fill="url(#sp)"/>
<circle cx="997.6" cy="903" r="7" fill="url(#sp)"/>
<circle cx="1014.1" cy="880.7" r="7" fill="url(#sp)"/>
<circle cx="1030.7" cy="852.7" r="7" fill="url(#sp)"/>
<circle cx="1047.2" cy="817" r="7" fill="url(#sp)"/>
<circle cx="1063.7" cy="767.7" r="7" fill="url(#sp)"/>
<circle cx="1080.3" cy="713" r="7" fill="url(#sp)"/>
<circle cx="1096.8" cy="663.8" r="7" fill="url(#sp)"/>
<circle cx="1113.3" cy="616.5" r="7" fill="url(#sp)"/>
<circle cx="1129.8" cy="601.9" r="7" fill="url(#sp)"/>
<circle cx="1146.4" cy="615.6" r="7" fill="url(#sp)"/>
<circle cx="1162.9" cy="647.4" r="7" fill="url(#sp)"/>
<circle cx="1179.4" cy="698.4" r="7" fill="url(#sp)"/>
<circle cx="1196" cy="753.1" r="7" fill="url(#sp)"/>
<circle cx="1212.5" cy="808.8" r="7" fill="url(#sp)"/>
<circle cx="1229" cy="852.9" r="7" fill="url(#sp)"/>
<circle cx="1245.6" cy="888" r="7" fill="url(#sp)"/>
<circle cx="1262.1" cy="917.5" r="7" fill="url(#sp)"/>
<circle cx="1278.6" cy="936.9" r="7" fill="url(#sp)"/>
<circle cx="1295.2" cy="955" r="7" fill="url(#sp)"/>
<circle cx="1311.7" cy="966.5" r="7" fill="url(#sp)"/>
<circle cx="1328.2" cy="976.9" r="7" fill="url(#sp)"/>
<circle cx="1344.7" cy="981" r="7" fill="url(#sp)"/>
<circle cx="1361.3" cy="986.8" r="7" fill="url(#sp)"/>
<circle cx="1377.8" cy="992" r="7" fill="url(#sp)"/>
</g>
<polyline points="716.6,1013 724.9,1012.8 733.1,1012.6 741.4,1012.3 749.7,1011.9 757.9,1011.5 766.2,1011 774.5,1010.4 782.7,1009.7 791,1008.9 799.2,1008 807.5,1007 815.8,1005.8 824,1004.4 832.3,1002.9 840.6,1001.2 848.8,999.2 857.1,997.1 865.4,994.8 873.6,992.3 881.9,989.6 890.2,986.7 898.4,983.6 906.7,980.3 915,977 923.2,973.5 931.5,970 939.8,966.4 948,962.9 956.3,959.4 964.5,956.1 972.8,953 981.1,950.1 989.3,947.5 997.6,945.3 1005.9,943.6 1014.1,942.3 1022.4,941.5 1030.7,941.3 1038.9,941.6 1047.2,942.4 1055.5,943.8 1063.7,945.7 1072,948.1 1080.3,950.8 1088.5,953.8 1096.8,957.1 1105.1,960.6 1113.3,964.2 1121.6,967.9 1129.9,971.6 1138.1,975.3 1146.4,978.8 1154.6,982.3 1162.9,985.6 1171.2,988.7 1179.4,991.6 1187.7,994.3 1196,996.8 1204.2,999 1212.5,1001.1 1220.8,1002.9 1229,1004.6 1237.3,1006 1245.6,1007.3 1253.8,1008.3 1262.1,1009.3 1270.4,1010.1 1278.6,1010.8 1286.9,1011.4 1295.2,1011.9 1303.4,1012.3 1311.7,1012.7 1319.9,1012.9 1328.2,1013.2 1336.5,1013.4 1344.7,1013.6 1353,1013.7 1361.3,1013.8 1369.5,1013.9 1377.8,1014 1378,1014.3" fill="none" stroke="#ff0000" stroke-width="2.8" stroke-linejoin="round"/>
<polyline points="716.6,1014.9 724.9,1014.9 733.1,1014.8 741.4,1014.8 749.7,1014.8 757.9,1014.8 766.2,1014.8 774.5,1014.7 782.7,1014.7 791,1014.7 799.2,1014.7 807.5,1014.6 815.8,1014.6 824,1014.6 832.3,1014.5 840.6,1014.5 848.8,1014.5 857.1,1014.4 865.4,1014.4 873.6,1014.3 881.9,1014.3 890.2,1014.2 898.4,1014.1 906.7,1014 915,1014 923.2,1013.9 931.5,1013.8 939.8,1013.6 948,1013.4 956.3,1013.2 964.5,1012.9 972.8,1012.6 981.1,1012 989.3,1011.3 997.6,1010.3 1005.9,1009 1014.1,1007.2 1022.4,1004.8 1030.7,1001.7 1038.9,997.7 1047.2,992.7 1055.5,986.5 1063.7,979.1 1072,970.4 1080.3,960.4 1088.5,949.3 1096.8,937.3 1105.1,924.6 1113.3,911.8 1121.6,899.4 1129.9,887.8 1138.1,877.8 1146.4,870 1154.6,864.8 1162.9,862.6 1171.2,863.9 1179.4,868.9 1187.7,877 1196,887.6 1204.2,899.8 1212.5,912.9 1220.8,926.1 1229,939 1237.3,951 1245.6,962 1253.8,971.6 1262.1,979.9 1270.4,986.9 1278.6,992.6 1286.9,997.2 1295.2,1000.8 1303.4,1003.6 1311.7,1005.7 1319.9,1007.3 1328.2,1008.5 1336.5,1009.5 1344.7,1010.2 1353,1010.7 1361.3,1011.2 1369.5,1011.5 1377.8,1011.8 1378,1013.9" fill="none" stroke="#008000" stroke-width="2.8" stroke-linejoin="round"/>
<polyline points="716.8,1014.2 718.8,1014 720.8,1013.9 722.8,1013.8 724.8,1013.6 726.8,1013.5 728.8,1013.3 730.8,1013.2 732.8,1013 734.8,1012.9 736.8,1012.7 738.8,1012.6 740.8,1012.5 742.8,1012.3 744.8,1012.2 746.8,1012 748.8,1011.9 750.8,1011.7 752.8,1011.6 754.8,1011.4 756.8,1011.3 758.8,1011.1 760.8,1010.9 762.8,1010.8 764.8,1010.6 766.8,1010.4 768.8,1010.2 770.8,1010.1 772.8,1009.9 774.8,1009.7 776.8,1009.5 778.8,1009.3 780.8,1009.1 782.8,1009 784.8,1008.8 786.8,1008.6 788.8,1008.4 790.8,1008.2 792.8,1008 794.8,1007.8 796.8,1007.5 798.8,1007.3 800.8,1007.1 802.8,1006.9 804.8,1006.6 806.8,1006.4 808.8,1006.1 810.8,1005.9 812.8,1005.6 814.8,1005.4 816.8,1005.1 818.8,1004.8 820.8,1004.5 822.8,1004.2 824.8,1003.8 826.8,1003.5 828.8,1003.1 830.8,1002.7 832.8,1002.4 834.8,1001.9 836.8,1001.5 838.8,1001.1 840.8,1000.6 842.8,1000.2 844.8,999.7 846.8,999.2 848.8,998.7 850.8,998.2 852.8,997.7 854.8,997.2 856.8,996.6 858.8,996.1 860.8,995.6 862.8,995 864.8,994.5 866.8,994 868.8,993.4 870.8,992.9 872.8,992.3 874.8,991.7 876.8,991.2 878.8,990.6 880.8,990 882.8,989.4 884.8,988.7 886.8,988.1 888.8,987.4 890.8,986.8 892.8,986.1 894.8,985.4 896.8,984.7 898.8,983.9 900.8,983.2 902.8,982.4 904.8,981.6 906.8,980.8 908.8,979.9 910.8,979.1 912.8,978.2 914.8,977.3 916.8,976.3 918.8,975.4 920.8,974.5 922.8,973.6 924.8,972.7 926.8,971.8 928.8,970.9 930.8,970 932.8,969.1 934.8,968.2 936.8,967.3 938.8,966.3 940.8,965.4 942.8,964.5 944.8,963.6 946.8,962.7 948.8,961.8 950.8,961 952.8,960.1 954.8,959.2 956.8,958.3 958.8,957.4 960.8,956.4 962.8,955.3 964.8,954.2 966.8,953 968.8,951.8 970.8,950.5 972.8,949.2 974.8,947.8 976.8,946.3 978.8,944.8 980.8,943.2 982.8,941.5 984.8,939.7 986.8,937.8 988.8,935.8 990.8,933.6 992.8,931.4 994.8,928.9 996.8,926.4 998.8,923.8 1000.8,921 1002.8,918.2 1004.8,915.3 1006.8,912.3 1008.8,909.2 1010.8,905.9 1012.8,902.4 1014.8,898.7 1016.8,894.9 1018.8,890.9 1020.8,886.8 1022.8,882.6 1024.8,878.4 1026.8,874 1028.8,869.6 1030.8,865.2 1032.8,860.5 1034.8,855.7 1036.8,850.7 1038.8,845.6 1040.8,840.2 1042.8,834.7 1044.8,828.9 1046.8,822.8 1048.8,816.4 1050.8,809.7 1052.8,802.9 1054.8,795.8 1056.8,788.4 1058.8,780.6 1060.8,772.1 1062.8,763.4 1064.8,755 1066.8,746.7 1068.8,738.4 1070.8,730.1 1072.8,721.8 1074.8,713.4 1076.8,705 1078.8,696.2 1080.2,689 1096.6,624.3 1113.1,583.7 1129.6,583.9 1146.1,619.8 1162.7,668 1164,680.6 1166,688.9 1168,696.9 1170,704.7 1172,712.5 1174,720.5 1176,728.5 1178,736.5 1180,744.6 1182,752.6 1184,760.7 1186,769 1188,777.3 1190,785.6 1192,793.6 1194,801.4 1196,808.7 1198,815.6 1200,822.3 1202,828.8 1204,835.1 1206,841.2 1208,847.2 1210,853 1212,858.8 1214,864.4 1216,869.9 1218,875.3 1220,880.5 1222,885.6 1224,890.6 1226,895.4 1228,900 1230,904.6 1232,909 1234,913.3 1236,917.5 1238,921.6 1240,925.7 1242,929.7 1244,933.7 1246,937.6 1248,941.5 1250,945.3 1252,949 1254,952.5 1256,955.8 1258,958.9 1260,961.9 1262,964.8 1264,967.7 1266,970.4 1268,973.1 1270,975.6 1272,978.1 1274,980.3 1276,982.4 1278,984.3 1280,985.9 1282,987.5 1284,989 1286,990.4 1288,991.7 1290,993 1292,994.2 1294,995.3 1296,996.4 1298,997.4 1300,998.3 1302,999.2 1304,1000.1 1306,1000.9 1308,1001.8 1310,1002.6 1312,1003.4 1314,1004.2 1316,1004.9 1318,1005.6 1320,1006.3 1322,1006.9 1324,1007.5 1326,1008 1328,1008.5 1330,1008.9 1332,1009.3 1334,1009.6 1336,1009.8 1338,1010.1 1340,1010.4 1342,1010.6 1344,1010.8 1346,1011 1348,1011.2 1350,1011.4 1352,1011.5 1354,1011.7 1356,1011.9 1358,1012 1360,1012.2 1362,1012.3 1364,1012.5 1366,1012.6 1368,1012.8 1370,1012.9 1372,1013.1 1374,1013.2 1376,1013.4 1378,1013.6" fill="none" stroke="#0000ff" stroke-width="3.4" stroke-linejoin="round"/>
<text x="729.2" y="983.6" font-family="&quot;Liberation Serif&quot;, serif" font-weight="bold" font-size="43" fill="#000" text-anchor="start">d</text>
<text transform="translate(1190.5,610.7) rotate(-90)" font-family="&quot;Liberation Serif&quot;, serif" font-weight="bold" font-size="44" fill="#000">C</text>
<text transform="translate(1204,580.8) rotate(-90)" font-family="&quot;Liberation Serif&quot;, serif" font-weight="bold" font-size="25" fill="#000">1s</text>
<text transform="translate(1073.0,939.0) rotate(-90)" font-family="&quot;Liberation Serif&quot;, serif" font-weight="bold" font-size="43" letter-spacing="-0.95" fill="#ff0000">C-O</text>
<text transform="translate(1177.2,854.2) rotate(-90)" font-family="&quot;Liberation Serif&quot;, serif" font-weight="bold" font-size="40" letter-spacing="-1.3" fill="#008000">C-C</text>
<line x1="619" y1="1120.2" x2="800.1" y2="1120.2" stroke="#000" stroke-width="5"/>
<polyline points="639.6,1106.9 616.2,1120.2 639.6,1133.6" fill="none" stroke="#000" stroke-width="5" stroke-linecap="round" stroke-linejoin="miter"/>
<text x="521.1" y="1194.3" font-family="&quot;Liberation Serif&quot;, serif" font-weight="bold" font-size="44" fill="#000" text-anchor="start">Binding Energy (eV)</text>
</g>
</svg></body></html>
